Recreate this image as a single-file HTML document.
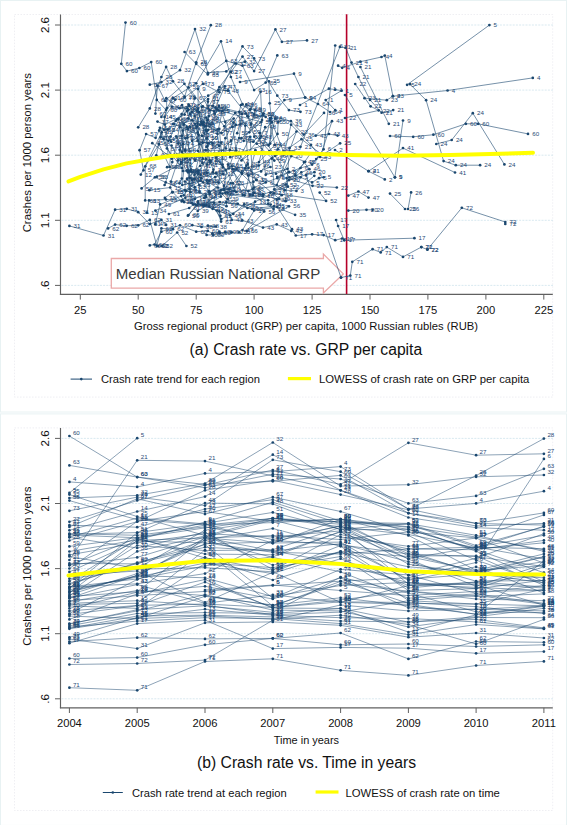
<!DOCTYPE html>
<html><head><meta charset="utf-8"><style>
html,body{margin:0;padding:0;background:#fff;}
svg{display:block;}
text{font-family:"Liberation Sans",sans-serif;}
</style></head><body>
<svg width="567" height="825" viewBox="0 0 567 825">
<rect x="0" y="0" width="567" height="825" fill="#fff"/>
<rect x="0.5" y="0.5" width="566" height="411.5" fill="none" stroke="#e8f2f3" stroke-width="1"/>
<rect x="14.5" y="14.5" width="538.2" height="382.6" fill="none" stroke="#ebebf0" stroke-width="0.8" stroke-dasharray="1.5 1.5"/>
<line x1="61.5" y1="25.0" x2="553" y2="25.0" stroke="#d5e6ee" stroke-width="0.9" stroke-dasharray="2 1.2"/>
<line x1="61.5" y1="90.1" x2="553" y2="90.1" stroke="#d5e6ee" stroke-width="0.9" stroke-dasharray="2 1.2"/>
<line x1="61.5" y1="155.2" x2="553" y2="155.2" stroke="#d5e6ee" stroke-width="0.9" stroke-dasharray="2 1.2"/>
<line x1="61.5" y1="220.3" x2="553" y2="220.3" stroke="#d5e6ee" stroke-width="0.9" stroke-dasharray="2 1.2"/>
<line x1="61.5" y1="285.4" x2="553" y2="285.4" stroke="#d5e6ee" stroke-width="0.9" stroke-dasharray="2 1.2"/>
<line x1="60.5" y1="14.5" x2="60.5" y2="294.9" stroke="#606060" stroke-width="1.15"/>
<line x1="59.9" y1="294.4" x2="552.8" y2="294.4" stroke="#606060" stroke-width="1.15"/>
<line x1="55" y1="25.0" x2="60" y2="25.0" stroke="#606060" stroke-width="1"/>
<text x="0" y="0" font-size="11.6" text-anchor="middle" fill="#111" transform="translate(49.2 25.0) rotate(-90)">2.6</text>
<line x1="55" y1="90.1" x2="60" y2="90.1" stroke="#606060" stroke-width="1"/>
<text x="0" y="0" font-size="11.6" text-anchor="middle" fill="#111" transform="translate(49.2 90.1) rotate(-90)">2.1</text>
<line x1="55" y1="155.2" x2="60" y2="155.2" stroke="#606060" stroke-width="1"/>
<text x="0" y="0" font-size="11.6" text-anchor="middle" fill="#111" transform="translate(49.2 155.2) rotate(-90)">1.6</text>
<line x1="55" y1="220.3" x2="60" y2="220.3" stroke="#606060" stroke-width="1"/>
<text x="0" y="0" font-size="11.6" text-anchor="middle" fill="#111" transform="translate(49.2 220.3) rotate(-90)">1.1</text>
<line x1="55" y1="285.4" x2="60" y2="285.4" stroke="#606060" stroke-width="1"/>
<text x="0" y="0" font-size="11.6" text-anchor="middle" fill="#111" transform="translate(49.2 285.4) rotate(-90)">.6</text>
<text x="0" y="0" font-size="11.4" text-anchor="middle" fill="#111" textLength="159.3" lengthAdjust="spacingAndGlyphs" transform="translate(30.6 152.7) rotate(-90)">Crashes per 1000 person years</text>
<line x1="80.3" y1="294.4" x2="80.3" y2="299.6" stroke="#606060" stroke-width="1"/>
<text x="80.3" y="313.7" font-size="11.2" text-anchor="middle" fill="#111">25</text>
<line x1="138.2" y1="294.4" x2="138.2" y2="299.6" stroke="#606060" stroke-width="1"/>
<text x="138.2" y="313.7" font-size="11.2" text-anchor="middle" fill="#111">50</text>
<line x1="196.2" y1="294.4" x2="196.2" y2="299.6" stroke="#606060" stroke-width="1"/>
<text x="196.2" y="313.7" font-size="11.2" text-anchor="middle" fill="#111">75</text>
<line x1="254.1" y1="294.4" x2="254.1" y2="299.6" stroke="#606060" stroke-width="1"/>
<text x="254.1" y="313.7" font-size="11.2" text-anchor="middle" fill="#111">100</text>
<line x1="312.1" y1="294.4" x2="312.1" y2="299.6" stroke="#606060" stroke-width="1"/>
<text x="312.1" y="313.7" font-size="11.2" text-anchor="middle" fill="#111">125</text>
<line x1="370.0" y1="294.4" x2="370.0" y2="299.6" stroke="#606060" stroke-width="1"/>
<text x="370.0" y="313.7" font-size="11.2" text-anchor="middle" fill="#111">150</text>
<line x1="427.9" y1="294.4" x2="427.9" y2="299.6" stroke="#606060" stroke-width="1"/>
<text x="427.9" y="313.7" font-size="11.2" text-anchor="middle" fill="#111">175</text>
<line x1="485.9" y1="294.4" x2="485.9" y2="299.6" stroke="#606060" stroke-width="1"/>
<text x="485.9" y="313.7" font-size="11.2" text-anchor="middle" fill="#111">200</text>
<line x1="543.8" y1="294.4" x2="543.8" y2="299.6" stroke="#606060" stroke-width="1"/>
<text x="543.8" y="313.7" font-size="11.2" text-anchor="middle" fill="#111">225</text>
<text x="134.0" y="330.3" font-size="11.3" text-anchor="start" fill="#111" textLength="344.0" lengthAdjust="spacingAndGlyphs" >Gross regional product (GRP) per capita, 1000 Russian rubles (RUB)</text>
<text x="189.6" y="355.0" font-size="15.6" text-anchor="start" fill="#111" textLength="232.6" lengthAdjust="spacingAndGlyphs" >(a) Crash rate vs. GRP per capita</text>
<line x1="70.6" y1="379.1" x2="92.0" y2="379.1" stroke="#1a476f" stroke-width="1"/>
<circle cx="81.3" cy="379.1" r="1.3" fill="#1a476f"/>
<text x="100.9" y="383.3" font-size="11.25" text-anchor="start" fill="#111" textLength="159.1" lengthAdjust="spacingAndGlyphs" >Crash rate trend for each region</text>
<line x1="287.9" y1="378.6" x2="311.0" y2="378.6" stroke="#ffff00" stroke-width="3.2"/>
<text x="319.0" y="383.3" font-size="11.25" text-anchor="start" fill="#111" textLength="210.4" lengthAdjust="spacingAndGlyphs" >LOWESS of crash rate on GRP per capita</text>
<rect x="0.5" y="413.9" width="566" height="411.5" fill="none" stroke="#e8f2f3" stroke-width="1"/>
<rect x="14.5" y="427.9" width="538.2" height="382.6" fill="none" stroke="#ebebf0" stroke-width="0.8" stroke-dasharray="1.5 1.5"/>
<line x1="61.5" y1="438.4" x2="553" y2="438.4" stroke="#d5e6ee" stroke-width="0.9" stroke-dasharray="2 1.2"/>
<line x1="61.5" y1="503.5" x2="553" y2="503.5" stroke="#d5e6ee" stroke-width="0.9" stroke-dasharray="2 1.2"/>
<line x1="61.5" y1="568.6" x2="553" y2="568.6" stroke="#d5e6ee" stroke-width="0.9" stroke-dasharray="2 1.2"/>
<line x1="61.5" y1="633.7" x2="553" y2="633.7" stroke="#d5e6ee" stroke-width="0.9" stroke-dasharray="2 1.2"/>
<line x1="61.5" y1="698.8" x2="553" y2="698.8" stroke="#d5e6ee" stroke-width="0.9" stroke-dasharray="2 1.2"/>
<line x1="60.5" y1="427.9" x2="60.5" y2="708.3" stroke="#606060" stroke-width="1.15"/>
<line x1="59.9" y1="707.8" x2="552.8" y2="707.8" stroke="#606060" stroke-width="1.15"/>
<line x1="55" y1="438.4" x2="60" y2="438.4" stroke="#606060" stroke-width="1"/>
<text x="0" y="0" font-size="11.6" text-anchor="middle" fill="#111" transform="translate(49.2 438.4) rotate(-90)">2.6</text>
<line x1="55" y1="503.5" x2="60" y2="503.5" stroke="#606060" stroke-width="1"/>
<text x="0" y="0" font-size="11.6" text-anchor="middle" fill="#111" transform="translate(49.2 503.5) rotate(-90)">2.1</text>
<line x1="55" y1="568.6" x2="60" y2="568.6" stroke="#606060" stroke-width="1"/>
<text x="0" y="0" font-size="11.6" text-anchor="middle" fill="#111" transform="translate(49.2 568.6) rotate(-90)">1.6</text>
<line x1="55" y1="633.7" x2="60" y2="633.7" stroke="#606060" stroke-width="1"/>
<text x="0" y="0" font-size="11.6" text-anchor="middle" fill="#111" transform="translate(49.2 633.7) rotate(-90)">1.1</text>
<line x1="55" y1="698.8" x2="60" y2="698.8" stroke="#606060" stroke-width="1"/>
<text x="0" y="0" font-size="11.6" text-anchor="middle" fill="#111" transform="translate(49.2 698.8) rotate(-90)">.6</text>
<text x="0" y="0" font-size="11.4" text-anchor="middle" fill="#111" textLength="159.3" lengthAdjust="spacingAndGlyphs" transform="translate(30.6 566.1) rotate(-90)">Crashes per 1000 person years</text>
<line x1="69.4" y1="707.8" x2="69.4" y2="713.0" stroke="#606060" stroke-width="1"/>
<text x="69.4" y="727.1" font-size="11.2" text-anchor="middle" fill="#111">2004</text>
<line x1="137.2" y1="707.8" x2="137.2" y2="713.0" stroke="#606060" stroke-width="1"/>
<text x="137.2" y="727.1" font-size="11.2" text-anchor="middle" fill="#111">2005</text>
<line x1="205.0" y1="707.8" x2="205.0" y2="713.0" stroke="#606060" stroke-width="1"/>
<text x="205.0" y="727.1" font-size="11.2" text-anchor="middle" fill="#111">2006</text>
<line x1="272.8" y1="707.8" x2="272.8" y2="713.0" stroke="#606060" stroke-width="1"/>
<text x="272.8" y="727.1" font-size="11.2" text-anchor="middle" fill="#111">2007</text>
<line x1="340.6" y1="707.8" x2="340.6" y2="713.0" stroke="#606060" stroke-width="1"/>
<text x="340.6" y="727.1" font-size="11.2" text-anchor="middle" fill="#111">2008</text>
<line x1="408.4" y1="707.8" x2="408.4" y2="713.0" stroke="#606060" stroke-width="1"/>
<text x="408.4" y="727.1" font-size="11.2" text-anchor="middle" fill="#111">2009</text>
<line x1="476.1" y1="707.8" x2="476.1" y2="713.0" stroke="#606060" stroke-width="1"/>
<text x="476.1" y="727.1" font-size="11.2" text-anchor="middle" fill="#111">2010</text>
<line x1="543.9" y1="707.8" x2="543.9" y2="713.0" stroke="#606060" stroke-width="1"/>
<text x="543.9" y="727.1" font-size="11.2" text-anchor="middle" fill="#111">2011</text>
<text x="273.8" y="743.7" font-size="11.3" text-anchor="start" fill="#111" textLength="65.2" lengthAdjust="spacingAndGlyphs" >Time in years</text>
<text x="197.0" y="768.4" font-size="15.6" text-anchor="start" fill="#111" textLength="219.0" lengthAdjust="spacingAndGlyphs" >(b) Crash rate vs. Time in years</text>
<line x1="102.8" y1="792.5" x2="122.8" y2="792.5" stroke="#1a476f" stroke-width="1"/>
<circle cx="112.8" cy="792.5" r="1.3" fill="#1a476f"/>
<text x="132.0" y="796.7" font-size="11.25" text-anchor="start" fill="#111" textLength="154.7" lengthAdjust="spacingAndGlyphs" >Crash rate trend at each region</text>
<line x1="315.6" y1="792.0" x2="338.5" y2="792.0" stroke="#ffff00" stroke-width="3.2"/>
<text x="345.4" y="796.7" font-size="11.25" text-anchor="start" fill="#111" textLength="154.5" lengthAdjust="spacingAndGlyphs" >LOWESS of crash rate on time</text>
<path d="M69.4 592.0 L137.2 576.1 L205.0 537.9 L272.8 543.3 L340.6 519.3 L408.4 535.4 L476.1 570.4 L543.9 565.6 M69.4 598.2 L137.2 584.6 L205.0 603.3 L272.8 594.9 L340.6 602.3 L408.4 604.3 L476.1 614.3 L543.9 561.0 M69.4 578.7 L137.2 569.2 L205.0 567.6 L272.8 571.8 L340.6 602.4 L408.4 585.6 L476.1 582.3 L543.9 575.3 M69.4 613.5 L137.2 579.5 L205.0 557.4 L272.8 580.0 L340.6 558.7 L408.4 585.5 L476.1 583.8 L543.9 588.0 M69.4 563.4 L137.2 563.9 L205.0 540.1 L272.8 528.5 L340.6 546.3 L408.4 590.5 L476.1 588.6 L543.9 566.8 M69.4 603.3 L137.2 600.7 L205.0 605.2 L272.8 614.7 L340.6 612.1 L408.4 600.7 L476.1 604.1 L543.9 605.8 M69.4 588.0 L137.2 532.8 L205.0 503.1 L272.8 503.9 L340.6 529.8 L408.4 529.3 L476.1 549.7 L543.9 540.4 M69.4 627.1 L137.2 621.1 L205.0 617.7 L272.8 618.5 L340.6 623.6 L408.4 634.7 L476.1 624.5 L543.9 628.9 M69.4 598.2 L137.2 575.3 L205.0 540.4 L272.8 557.4 L340.6 571.9 L408.4 598.2 L476.1 593.9 L543.9 603.3 M69.4 637.3 L137.2 617.5 L205.0 609.2 L272.8 615.2 L340.6 617.7 L408.4 618.5 L476.1 621.9 L543.9 628.6 M69.4 565.1 L137.2 557.4 L205.0 537.0 L272.8 520.1 L340.6 537.0 L408.4 546.3 L476.1 538.1 L543.9 563.1 M69.4 605.9 L137.2 608.4 L205.0 563.4 L272.8 573.6 L340.6 551.6 L408.4 588.0 L476.1 581.9 L543.9 586.9 M69.4 525.2 L137.2 527.2 L205.0 509.0 L272.8 499.7 L340.6 521.0 L408.4 527.3 L476.1 551.2 L543.9 581.7 M69.4 594.8 L137.2 573.6 L205.0 543.8 L272.8 542.1 L340.6 525.5 L408.4 559.1 L476.1 586.3 L543.9 564.2 M69.4 619.4 L137.2 593.9 L205.0 579.5 L272.8 608.1 L340.6 608.4 L408.4 622.1 L476.1 616.8 L543.9 608.3 M69.4 587.8 L137.2 545.5 L205.0 550.6 L272.8 549.7 L340.6 527.4 L408.4 584.2 L476.1 587.4 L543.9 590.4 M69.4 628.8 L137.2 618.6 L205.0 615.9 L272.8 619.3 L340.6 615.2 L408.4 624.5 L476.1 644.0 L543.9 619.4 M69.4 581.2 L137.2 538.8 L205.0 554.0 L272.8 554.8 L340.6 531.9 L408.4 558.6 L476.1 547.1 L543.9 535.3 M69.4 494.6 L137.2 516.6 L205.0 535.4 L272.8 565.1 L340.6 552.4 L408.4 566.8 L476.1 572.3 L543.9 556.5 M69.4 593.1 L137.2 540.4 L205.0 537.9 L272.8 535.6 L340.6 539.5 L408.4 531.9 L476.1 560.1 L543.9 583.1 M69.4 526.9 L137.2 498.8 L205.0 514.1 L272.8 497.1 L340.6 511.5 L408.4 531.9 L476.1 537.9 L543.9 514.9 M69.4 616.1 L137.2 618.5 L205.0 596.3 L272.8 605.0 L340.6 597.8 L408.4 605.8 L476.1 614.1 L543.9 605.7 M69.4 551.5 L137.2 539.9 L205.0 522.0 L272.8 502.2 L340.6 523.7 L408.4 524.3 L476.1 547.0 L543.9 559.0 M69.4 568.5 L137.2 521.4 L205.0 511.5 L272.8 521.4 L340.6 519.2 L408.4 529.4 L476.1 549.2 L543.9 542.8 M69.4 583.5 L137.2 563.4 L205.0 547.2 L272.8 551.0 L340.6 543.7 L408.4 561.7 L476.1 581.2 L543.9 580.4 M69.4 533.7 L137.2 535.3 L205.0 526.8 L272.8 539.5 L340.6 526.2 L408.4 564.2 L476.1 573.8 L543.9 556.9 M69.4 534.2 L137.2 532.6 L205.0 523.4 L272.8 512.4 L340.6 529.4 L408.4 523.6 L476.1 535.3 L543.9 551.4 M69.4 537.1 L137.2 518.0 L205.0 523.9 L272.8 543.0 L340.6 542.1 L408.4 580.4 L476.1 566.8 L543.9 593.1 M69.4 556.4 L137.2 568.5 L205.0 530.2 L272.8 520.0 L340.6 521.7 L408.4 555.9 L476.1 555.8 L543.9 585.4 M69.4 565.3 L137.2 538.0 L205.0 558.0 L272.8 570.2 L340.6 534.5 L408.4 548.9 L476.1 547.2 L543.9 548.8 M69.4 500.6 L137.2 519.7 L205.0 524.8 L272.8 522.6 L340.6 519.1 L408.4 526.8 L476.1 537.0 L543.9 549.9 M69.4 575.3 L137.2 571.0 L205.0 602.4 L272.8 572.3 L340.6 545.5 L408.4 579.2 L476.1 574.0 L543.9 577.8 M69.4 554.9 L137.2 542.9 L205.0 533.6 L272.8 537.0 L340.6 530.9 L408.4 551.4 L476.1 573.5 L543.9 582.9 M69.4 625.8 L137.2 613.5 L205.0 612.6 L272.8 613.5 L340.6 608.5 L408.4 632.1 L476.1 614.9 L543.9 606.4 M69.4 628.1 L137.2 616.0 L205.0 615.2 L272.8 616.9 L340.6 621.1 L408.4 621.9 L476.1 619.4 L543.9 627.9 M69.4 587.1 L137.2 583.8 L205.0 573.6 L272.8 540.4 L340.6 544.8 L408.4 554.0 L476.1 556.5 L543.9 566.6 M69.4 546.4 L137.2 537.6 L205.0 525.1 L272.8 518.3 L340.6 522.2 L408.4 523.4 L476.1 545.5 L543.9 526.8 M69.4 534.9 L137.2 537.8 L205.0 527.9 L272.8 518.4 L340.6 524.3 L408.4 553.7 L476.1 571.9 L543.9 561.7 M69.4 601.6 L137.2 590.5 L205.0 595.6 L272.8 605.4 L340.6 583.8 L408.4 591.2 L476.1 596.5 L543.9 593.9 M69.4 608.4 L137.2 592.2 L205.0 586.3 L272.8 599.0 L340.6 577.8 L408.4 607.8 L476.1 609.4 L543.9 605.9 M69.4 587.0 L137.2 578.9 L205.0 565.9 L272.8 556.8 L340.6 531.4 L408.4 575.3 L476.1 558.2 L543.9 533.7 M69.4 623.7 L137.2 610.9 L205.0 594.6 L272.8 610.1 L340.6 610.9 L408.4 627.0 L476.1 617.5 L543.9 617.7 M69.4 595.9 L137.2 551.4 L205.0 535.9 L272.8 518.0 L340.6 526.8 L408.4 534.5 L476.1 547.8 L543.9 526.2 M69.4 589.8 L137.2 577.1 L205.0 563.0 L272.8 567.6 L340.6 556.5 L408.4 600.4 L476.1 595.4 L543.9 604.3 M69.4 611.0 L137.2 605.4 L205.0 604.0 L272.8 607.5 L340.6 601.8 L408.4 602.5 L476.1 606.7 L543.9 613.4 M69.4 604.5 L137.2 603.3 L205.0 550.0 L272.8 606.2 L340.6 581.4 L408.4 603.3 L476.1 604.1 L543.9 589.0 M69.4 571.9 L137.2 541.1 L205.0 542.8 L272.8 552.3 L340.6 554.0 L408.4 549.0 L476.1 549.7 L543.9 572.7 M69.4 584.6 L137.2 562.5 L205.0 544.7 L272.8 598.2 L340.6 569.3 L408.4 575.0 L476.1 593.3 L543.9 585.4 M69.4 624.1 L137.2 609.7 L205.0 605.8 L272.8 612.3 L340.6 577.1 L408.4 593.1 L476.1 611.8 L543.9 612.8 M69.4 537.3 L137.2 548.0 L205.0 532.2 L272.8 569.5 L340.6 551.4 L408.4 556.5 L476.1 570.6 L543.9 553.9 M69.4 591.4 L137.2 575.6 L205.0 577.8 L272.8 596.5 L340.6 585.5 L408.4 582.4 L476.1 588.8 L543.9 580.2 M69.4 596.5 L137.2 591.8 L205.0 537.6 L272.8 550.9 L340.6 563.4 L408.4 582.9 L476.1 584.9 L543.9 605.2 M69.4 614.5 L137.2 605.8 L205.0 582.1 L272.8 607.5 L340.6 599.9 L408.4 591.3 L476.1 599.0 L543.9 600.7 M69.4 436.0 L137.2 477.1 L205.0 484.4 L272.8 481.3 L340.6 475.4 L408.4 513.2 L476.1 523.4 L543.9 512.9 M69.4 465.4 L137.2 477.1 L205.0 487.8 L272.8 474.2 L340.6 479.0 L408.4 503.4 L476.1 495.9 L543.9 468.8 M69.4 481.9 L137.2 486.9 L205.0 473.4 L272.8 471.7 L340.6 466.6 L408.4 509.0 L476.1 503.4 L543.9 491.2 M69.4 492.9 L137.2 438.2 M205.0 590.0 L272.8 585.0 L340.6 590.5 L408.4 595.6 L476.1 591.4 L543.9 590.5 M69.4 560.0 L137.2 460.3 L205.0 461.1 L272.8 475.9 L340.6 490.3 L408.4 513.2 L476.1 526.0 L543.9 523.4 M69.4 498.0 L137.2 495.4 L205.0 483.5 L272.8 442.5 L340.6 486.1 L408.4 484.7 L476.1 476.8 L543.9 475.0 M69.4 521.8 L137.2 500.5 L205.0 485.2 L272.8 470.0 L340.6 484.4 L408.4 442.8 L476.1 455.2 L543.9 453.8 M69.4 540.5 L137.2 521.7 L205.0 490.3 L272.8 480.2 L340.6 494.6 L408.4 509.8 L476.1 475.6 L543.9 438.6 M69.4 530.3 L137.2 511.5 L205.0 496.6 L272.8 454.7 L340.6 490.3 L408.4 517.5 L476.1 527.7 L543.9 530.2 M69.4 510.8 L137.2 497.1 L205.0 505.6 L272.8 459.8 L340.6 471.7 L408.4 509.0 L476.1 523.4 L543.9 525.1 M69.4 600.8 L137.2 595.6 L205.0 591.4 L272.8 585.5 L340.6 581.2 L408.4 577.8 L476.1 562.5 L543.9 458.9 M69.4 687.7 L137.2 690.3 L205.0 661.5 L272.8 658.8 L340.6 670.3 L408.4 675.4 L476.1 665.5 L543.9 661.4 M69.4 664.5 L137.2 663.5 L205.0 660.1 L272.8 620.2 L340.6 605.0 L408.4 610.9 L476.1 609.2 L543.9 610.9 M69.4 658.5 L137.2 657.6 L205.0 644.8 L272.8 638.4 L340.6 644.8 L408.4 644.0 L476.1 646.5 L543.9 644.8 M69.4 641.5 L137.2 637.7 L205.0 638.9 L272.8 638.4 L340.6 633.0 L408.4 658.9 L476.1 641.5 L543.9 642.3 M69.4 639.0 L137.2 648.6 L205.0 622.8 L272.8 621.9 L340.6 625.3 L408.4 637.2 L476.1 633.0 L543.9 638.0 M69.4 643.2 L137.2 623.6 L205.0 620.2 L272.8 648.6 L340.6 647.4 L408.4 648.2 L476.1 653.3 L543.9 651.6" fill="none" stroke="#1a476f" stroke-width="0.5" stroke-linejoin="round"/>
<g fill="#1a476f"><circle cx="69.4" cy="592.0" r="1.35"/><circle cx="137.2" cy="576.1" r="1.35"/><circle cx="205.0" cy="537.9" r="1.35"/><circle cx="272.8" cy="543.3" r="1.35"/><circle cx="340.6" cy="519.3" r="1.35"/><circle cx="408.4" cy="535.4" r="1.35"/><circle cx="476.1" cy="570.4" r="1.35"/><circle cx="543.9" cy="565.6" r="1.35"/><circle cx="69.4" cy="598.2" r="1.35"/><circle cx="137.2" cy="584.6" r="1.35"/><circle cx="205.0" cy="603.3" r="1.35"/><circle cx="272.8" cy="594.9" r="1.35"/><circle cx="340.6" cy="602.3" r="1.35"/><circle cx="408.4" cy="604.3" r="1.35"/><circle cx="476.1" cy="614.3" r="1.35"/><circle cx="543.9" cy="561.0" r="1.35"/><circle cx="69.4" cy="578.7" r="1.35"/><circle cx="137.2" cy="569.2" r="1.35"/><circle cx="205.0" cy="567.6" r="1.35"/><circle cx="272.8" cy="571.8" r="1.35"/><circle cx="340.6" cy="602.4" r="1.35"/><circle cx="408.4" cy="585.6" r="1.35"/><circle cx="476.1" cy="582.3" r="1.35"/><circle cx="543.9" cy="575.3" r="1.35"/><circle cx="69.4" cy="613.5" r="1.35"/><circle cx="137.2" cy="579.5" r="1.35"/><circle cx="205.0" cy="557.4" r="1.35"/><circle cx="272.8" cy="580.0" r="1.35"/><circle cx="340.6" cy="558.7" r="1.35"/><circle cx="408.4" cy="585.5" r="1.35"/><circle cx="476.1" cy="583.8" r="1.35"/><circle cx="543.9" cy="588.0" r="1.35"/><circle cx="69.4" cy="563.4" r="1.35"/><circle cx="137.2" cy="563.9" r="1.35"/><circle cx="205.0" cy="540.1" r="1.35"/><circle cx="272.8" cy="528.5" r="1.35"/><circle cx="340.6" cy="546.3" r="1.35"/><circle cx="408.4" cy="590.5" r="1.35"/><circle cx="476.1" cy="588.6" r="1.35"/><circle cx="543.9" cy="566.8" r="1.35"/><circle cx="69.4" cy="603.3" r="1.35"/><circle cx="137.2" cy="600.7" r="1.35"/><circle cx="205.0" cy="605.2" r="1.35"/><circle cx="272.8" cy="614.7" r="1.35"/><circle cx="340.6" cy="612.1" r="1.35"/><circle cx="408.4" cy="600.7" r="1.35"/><circle cx="476.1" cy="604.1" r="1.35"/><circle cx="543.9" cy="605.8" r="1.35"/><circle cx="69.4" cy="588.0" r="1.35"/><circle cx="137.2" cy="532.8" r="1.35"/><circle cx="205.0" cy="503.1" r="1.35"/><circle cx="272.8" cy="503.9" r="1.35"/><circle cx="340.6" cy="529.8" r="1.35"/><circle cx="408.4" cy="529.3" r="1.35"/><circle cx="476.1" cy="549.7" r="1.35"/><circle cx="543.9" cy="540.4" r="1.35"/><circle cx="69.4" cy="627.1" r="1.35"/><circle cx="137.2" cy="621.1" r="1.35"/><circle cx="205.0" cy="617.7" r="1.35"/><circle cx="272.8" cy="618.5" r="1.35"/><circle cx="340.6" cy="623.6" r="1.35"/><circle cx="408.4" cy="634.7" r="1.35"/><circle cx="476.1" cy="624.5" r="1.35"/><circle cx="543.9" cy="628.9" r="1.35"/><circle cx="69.4" cy="598.2" r="1.35"/><circle cx="137.2" cy="575.3" r="1.35"/><circle cx="205.0" cy="540.4" r="1.35"/><circle cx="272.8" cy="557.4" r="1.35"/><circle cx="340.6" cy="571.9" r="1.35"/><circle cx="408.4" cy="598.2" r="1.35"/><circle cx="476.1" cy="593.9" r="1.35"/><circle cx="543.9" cy="603.3" r="1.35"/><circle cx="69.4" cy="637.3" r="1.35"/><circle cx="137.2" cy="617.5" r="1.35"/><circle cx="205.0" cy="609.2" r="1.35"/><circle cx="272.8" cy="615.2" r="1.35"/><circle cx="340.6" cy="617.7" r="1.35"/><circle cx="408.4" cy="618.5" r="1.35"/><circle cx="476.1" cy="621.9" r="1.35"/><circle cx="543.9" cy="628.6" r="1.35"/><circle cx="69.4" cy="565.1" r="1.35"/><circle cx="137.2" cy="557.4" r="1.35"/><circle cx="205.0" cy="537.0" r="1.35"/><circle cx="272.8" cy="520.1" r="1.35"/><circle cx="340.6" cy="537.0" r="1.35"/><circle cx="408.4" cy="546.3" r="1.35"/><circle cx="476.1" cy="538.1" r="1.35"/><circle cx="543.9" cy="563.1" r="1.35"/><circle cx="69.4" cy="605.9" r="1.35"/><circle cx="137.2" cy="608.4" r="1.35"/><circle cx="205.0" cy="563.4" r="1.35"/><circle cx="272.8" cy="573.6" r="1.35"/><circle cx="340.6" cy="551.6" r="1.35"/><circle cx="408.4" cy="588.0" r="1.35"/><circle cx="476.1" cy="581.9" r="1.35"/><circle cx="543.9" cy="586.9" r="1.35"/><circle cx="69.4" cy="525.2" r="1.35"/><circle cx="137.2" cy="527.2" r="1.35"/><circle cx="205.0" cy="509.0" r="1.35"/><circle cx="272.8" cy="499.7" r="1.35"/><circle cx="340.6" cy="521.0" r="1.35"/><circle cx="408.4" cy="527.3" r="1.35"/><circle cx="476.1" cy="551.2" r="1.35"/><circle cx="543.9" cy="581.7" r="1.35"/><circle cx="69.4" cy="594.8" r="1.35"/><circle cx="137.2" cy="573.6" r="1.35"/><circle cx="205.0" cy="543.8" r="1.35"/><circle cx="272.8" cy="542.1" r="1.35"/><circle cx="340.6" cy="525.5" r="1.35"/><circle cx="408.4" cy="559.1" r="1.35"/><circle cx="476.1" cy="586.3" r="1.35"/><circle cx="543.9" cy="564.2" r="1.35"/><circle cx="69.4" cy="619.4" r="1.35"/><circle cx="137.2" cy="593.9" r="1.35"/><circle cx="205.0" cy="579.5" r="1.35"/><circle cx="272.8" cy="608.1" r="1.35"/><circle cx="340.6" cy="608.4" r="1.35"/><circle cx="408.4" cy="622.1" r="1.35"/><circle cx="476.1" cy="616.8" r="1.35"/><circle cx="543.9" cy="608.3" r="1.35"/><circle cx="69.4" cy="587.8" r="1.35"/><circle cx="137.2" cy="545.5" r="1.35"/><circle cx="205.0" cy="550.6" r="1.35"/><circle cx="272.8" cy="549.7" r="1.35"/><circle cx="340.6" cy="527.4" r="1.35"/><circle cx="408.4" cy="584.2" r="1.35"/><circle cx="476.1" cy="587.4" r="1.35"/><circle cx="543.9" cy="590.4" r="1.35"/><circle cx="69.4" cy="628.8" r="1.35"/><circle cx="137.2" cy="618.6" r="1.35"/><circle cx="205.0" cy="615.9" r="1.35"/><circle cx="272.8" cy="619.3" r="1.35"/><circle cx="340.6" cy="615.2" r="1.35"/><circle cx="408.4" cy="624.5" r="1.35"/><circle cx="476.1" cy="644.0" r="1.35"/><circle cx="543.9" cy="619.4" r="1.35"/><circle cx="69.4" cy="581.2" r="1.35"/><circle cx="137.2" cy="538.8" r="1.35"/><circle cx="205.0" cy="554.0" r="1.35"/><circle cx="272.8" cy="554.8" r="1.35"/><circle cx="340.6" cy="531.9" r="1.35"/><circle cx="408.4" cy="558.6" r="1.35"/><circle cx="476.1" cy="547.1" r="1.35"/><circle cx="543.9" cy="535.3" r="1.35"/><circle cx="69.4" cy="494.6" r="1.35"/><circle cx="137.2" cy="516.6" r="1.35"/><circle cx="205.0" cy="535.4" r="1.35"/><circle cx="272.8" cy="565.1" r="1.35"/><circle cx="340.6" cy="552.4" r="1.35"/><circle cx="408.4" cy="566.8" r="1.35"/><circle cx="476.1" cy="572.3" r="1.35"/><circle cx="543.9" cy="556.5" r="1.35"/><circle cx="69.4" cy="593.1" r="1.35"/><circle cx="137.2" cy="540.4" r="1.35"/><circle cx="205.0" cy="537.9" r="1.35"/><circle cx="272.8" cy="535.6" r="1.35"/><circle cx="340.6" cy="539.5" r="1.35"/><circle cx="408.4" cy="531.9" r="1.35"/><circle cx="476.1" cy="560.1" r="1.35"/><circle cx="543.9" cy="583.1" r="1.35"/><circle cx="69.4" cy="526.9" r="1.35"/><circle cx="137.2" cy="498.8" r="1.35"/><circle cx="205.0" cy="514.1" r="1.35"/><circle cx="272.8" cy="497.1" r="1.35"/><circle cx="340.6" cy="511.5" r="1.35"/><circle cx="408.4" cy="531.9" r="1.35"/><circle cx="476.1" cy="537.9" r="1.35"/><circle cx="543.9" cy="514.9" r="1.35"/><circle cx="69.4" cy="616.1" r="1.35"/><circle cx="137.2" cy="618.5" r="1.35"/><circle cx="205.0" cy="596.3" r="1.35"/><circle cx="272.8" cy="605.0" r="1.35"/><circle cx="340.6" cy="597.8" r="1.35"/><circle cx="408.4" cy="605.8" r="1.35"/><circle cx="476.1" cy="614.1" r="1.35"/><circle cx="543.9" cy="605.7" r="1.35"/><circle cx="69.4" cy="551.5" r="1.35"/><circle cx="137.2" cy="539.9" r="1.35"/><circle cx="205.0" cy="522.0" r="1.35"/><circle cx="272.8" cy="502.2" r="1.35"/><circle cx="340.6" cy="523.7" r="1.35"/><circle cx="408.4" cy="524.3" r="1.35"/><circle cx="476.1" cy="547.0" r="1.35"/><circle cx="543.9" cy="559.0" r="1.35"/><circle cx="69.4" cy="568.5" r="1.35"/><circle cx="137.2" cy="521.4" r="1.35"/><circle cx="205.0" cy="511.5" r="1.35"/><circle cx="272.8" cy="521.4" r="1.35"/><circle cx="340.6" cy="519.2" r="1.35"/><circle cx="408.4" cy="529.4" r="1.35"/><circle cx="476.1" cy="549.2" r="1.35"/><circle cx="543.9" cy="542.8" r="1.35"/><circle cx="69.4" cy="583.5" r="1.35"/><circle cx="137.2" cy="563.4" r="1.35"/><circle cx="205.0" cy="547.2" r="1.35"/><circle cx="272.8" cy="551.0" r="1.35"/><circle cx="340.6" cy="543.7" r="1.35"/><circle cx="408.4" cy="561.7" r="1.35"/><circle cx="476.1" cy="581.2" r="1.35"/><circle cx="543.9" cy="580.4" r="1.35"/><circle cx="69.4" cy="533.7" r="1.35"/><circle cx="137.2" cy="535.3" r="1.35"/><circle cx="205.0" cy="526.8" r="1.35"/><circle cx="272.8" cy="539.5" r="1.35"/><circle cx="340.6" cy="526.2" r="1.35"/><circle cx="408.4" cy="564.2" r="1.35"/><circle cx="476.1" cy="573.8" r="1.35"/><circle cx="543.9" cy="556.9" r="1.35"/><circle cx="69.4" cy="534.2" r="1.35"/><circle cx="137.2" cy="532.6" r="1.35"/><circle cx="205.0" cy="523.4" r="1.35"/><circle cx="272.8" cy="512.4" r="1.35"/><circle cx="340.6" cy="529.4" r="1.35"/><circle cx="408.4" cy="523.6" r="1.35"/><circle cx="476.1" cy="535.3" r="1.35"/><circle cx="543.9" cy="551.4" r="1.35"/><circle cx="69.4" cy="537.1" r="1.35"/><circle cx="137.2" cy="518.0" r="1.35"/><circle cx="205.0" cy="523.9" r="1.35"/><circle cx="272.8" cy="543.0" r="1.35"/><circle cx="340.6" cy="542.1" r="1.35"/><circle cx="408.4" cy="580.4" r="1.35"/><circle cx="476.1" cy="566.8" r="1.35"/><circle cx="543.9" cy="593.1" r="1.35"/><circle cx="69.4" cy="556.4" r="1.35"/><circle cx="137.2" cy="568.5" r="1.35"/><circle cx="205.0" cy="530.2" r="1.35"/><circle cx="272.8" cy="520.0" r="1.35"/><circle cx="340.6" cy="521.7" r="1.35"/><circle cx="408.4" cy="555.9" r="1.35"/><circle cx="476.1" cy="555.8" r="1.35"/><circle cx="543.9" cy="585.4" r="1.35"/><circle cx="69.4" cy="565.3" r="1.35"/><circle cx="137.2" cy="538.0" r="1.35"/><circle cx="205.0" cy="558.0" r="1.35"/><circle cx="272.8" cy="570.2" r="1.35"/><circle cx="340.6" cy="534.5" r="1.35"/><circle cx="408.4" cy="548.9" r="1.35"/><circle cx="476.1" cy="547.2" r="1.35"/><circle cx="543.9" cy="548.8" r="1.35"/><circle cx="69.4" cy="500.6" r="1.35"/><circle cx="137.2" cy="519.7" r="1.35"/><circle cx="205.0" cy="524.8" r="1.35"/><circle cx="272.8" cy="522.6" r="1.35"/><circle cx="340.6" cy="519.1" r="1.35"/><circle cx="408.4" cy="526.8" r="1.35"/><circle cx="476.1" cy="537.0" r="1.35"/><circle cx="543.9" cy="549.9" r="1.35"/><circle cx="69.4" cy="575.3" r="1.35"/><circle cx="137.2" cy="571.0" r="1.35"/><circle cx="205.0" cy="602.4" r="1.35"/><circle cx="272.8" cy="572.3" r="1.35"/><circle cx="340.6" cy="545.5" r="1.35"/><circle cx="408.4" cy="579.2" r="1.35"/><circle cx="476.1" cy="574.0" r="1.35"/><circle cx="543.9" cy="577.8" r="1.35"/><circle cx="69.4" cy="554.9" r="1.35"/><circle cx="137.2" cy="542.9" r="1.35"/><circle cx="205.0" cy="533.6" r="1.35"/><circle cx="272.8" cy="537.0" r="1.35"/><circle cx="340.6" cy="530.9" r="1.35"/><circle cx="408.4" cy="551.4" r="1.35"/><circle cx="476.1" cy="573.5" r="1.35"/><circle cx="543.9" cy="582.9" r="1.35"/><circle cx="69.4" cy="625.8" r="1.35"/><circle cx="137.2" cy="613.5" r="1.35"/><circle cx="205.0" cy="612.6" r="1.35"/><circle cx="272.8" cy="613.5" r="1.35"/><circle cx="340.6" cy="608.5" r="1.35"/><circle cx="408.4" cy="632.1" r="1.35"/><circle cx="476.1" cy="614.9" r="1.35"/><circle cx="543.9" cy="606.4" r="1.35"/><circle cx="69.4" cy="628.1" r="1.35"/><circle cx="137.2" cy="616.0" r="1.35"/><circle cx="205.0" cy="615.2" r="1.35"/><circle cx="272.8" cy="616.9" r="1.35"/><circle cx="340.6" cy="621.1" r="1.35"/><circle cx="408.4" cy="621.9" r="1.35"/><circle cx="476.1" cy="619.4" r="1.35"/><circle cx="543.9" cy="627.9" r="1.35"/><circle cx="69.4" cy="587.1" r="1.35"/><circle cx="137.2" cy="583.8" r="1.35"/><circle cx="205.0" cy="573.6" r="1.35"/><circle cx="272.8" cy="540.4" r="1.35"/><circle cx="340.6" cy="544.8" r="1.35"/><circle cx="408.4" cy="554.0" r="1.35"/><circle cx="476.1" cy="556.5" r="1.35"/><circle cx="543.9" cy="566.6" r="1.35"/><circle cx="69.4" cy="546.4" r="1.35"/><circle cx="137.2" cy="537.6" r="1.35"/><circle cx="205.0" cy="525.1" r="1.35"/><circle cx="272.8" cy="518.3" r="1.35"/><circle cx="340.6" cy="522.2" r="1.35"/><circle cx="408.4" cy="523.4" r="1.35"/><circle cx="476.1" cy="545.5" r="1.35"/><circle cx="543.9" cy="526.8" r="1.35"/><circle cx="69.4" cy="534.9" r="1.35"/><circle cx="137.2" cy="537.8" r="1.35"/><circle cx="205.0" cy="527.9" r="1.35"/><circle cx="272.8" cy="518.4" r="1.35"/><circle cx="340.6" cy="524.3" r="1.35"/><circle cx="408.4" cy="553.7" r="1.35"/><circle cx="476.1" cy="571.9" r="1.35"/><circle cx="543.9" cy="561.7" r="1.35"/><circle cx="69.4" cy="601.6" r="1.35"/><circle cx="137.2" cy="590.5" r="1.35"/><circle cx="205.0" cy="595.6" r="1.35"/><circle cx="272.8" cy="605.4" r="1.35"/><circle cx="340.6" cy="583.8" r="1.35"/><circle cx="408.4" cy="591.2" r="1.35"/><circle cx="476.1" cy="596.5" r="1.35"/><circle cx="543.9" cy="593.9" r="1.35"/><circle cx="69.4" cy="608.4" r="1.35"/><circle cx="137.2" cy="592.2" r="1.35"/><circle cx="205.0" cy="586.3" r="1.35"/><circle cx="272.8" cy="599.0" r="1.35"/><circle cx="340.6" cy="577.8" r="1.35"/><circle cx="408.4" cy="607.8" r="1.35"/><circle cx="476.1" cy="609.4" r="1.35"/><circle cx="543.9" cy="605.9" r="1.35"/><circle cx="69.4" cy="587.0" r="1.35"/><circle cx="137.2" cy="578.9" r="1.35"/><circle cx="205.0" cy="565.9" r="1.35"/><circle cx="272.8" cy="556.8" r="1.35"/><circle cx="340.6" cy="531.4" r="1.35"/><circle cx="408.4" cy="575.3" r="1.35"/><circle cx="476.1" cy="558.2" r="1.35"/><circle cx="543.9" cy="533.7" r="1.35"/><circle cx="69.4" cy="623.7" r="1.35"/><circle cx="137.2" cy="610.9" r="1.35"/><circle cx="205.0" cy="594.6" r="1.35"/><circle cx="272.8" cy="610.1" r="1.35"/><circle cx="340.6" cy="610.9" r="1.35"/><circle cx="408.4" cy="627.0" r="1.35"/><circle cx="476.1" cy="617.5" r="1.35"/><circle cx="543.9" cy="617.7" r="1.35"/><circle cx="69.4" cy="595.9" r="1.35"/><circle cx="137.2" cy="551.4" r="1.35"/><circle cx="205.0" cy="535.9" r="1.35"/><circle cx="272.8" cy="518.0" r="1.35"/><circle cx="340.6" cy="526.8" r="1.35"/><circle cx="408.4" cy="534.5" r="1.35"/><circle cx="476.1" cy="547.8" r="1.35"/><circle cx="543.9" cy="526.2" r="1.35"/><circle cx="69.4" cy="589.8" r="1.35"/><circle cx="137.2" cy="577.1" r="1.35"/><circle cx="205.0" cy="563.0" r="1.35"/><circle cx="272.8" cy="567.6" r="1.35"/><circle cx="340.6" cy="556.5" r="1.35"/><circle cx="408.4" cy="600.4" r="1.35"/><circle cx="476.1" cy="595.4" r="1.35"/><circle cx="543.9" cy="604.3" r="1.35"/><circle cx="69.4" cy="611.0" r="1.35"/><circle cx="137.2" cy="605.4" r="1.35"/><circle cx="205.0" cy="604.0" r="1.35"/><circle cx="272.8" cy="607.5" r="1.35"/><circle cx="340.6" cy="601.8" r="1.35"/><circle cx="408.4" cy="602.5" r="1.35"/><circle cx="476.1" cy="606.7" r="1.35"/><circle cx="543.9" cy="613.4" r="1.35"/><circle cx="69.4" cy="604.5" r="1.35"/><circle cx="137.2" cy="603.3" r="1.35"/><circle cx="205.0" cy="550.0" r="1.35"/><circle cx="272.8" cy="606.2" r="1.35"/><circle cx="340.6" cy="581.4" r="1.35"/><circle cx="408.4" cy="603.3" r="1.35"/><circle cx="476.1" cy="604.1" r="1.35"/><circle cx="543.9" cy="589.0" r="1.35"/><circle cx="69.4" cy="571.9" r="1.35"/><circle cx="137.2" cy="541.1" r="1.35"/><circle cx="205.0" cy="542.8" r="1.35"/><circle cx="272.8" cy="552.3" r="1.35"/><circle cx="340.6" cy="554.0" r="1.35"/><circle cx="408.4" cy="549.0" r="1.35"/><circle cx="476.1" cy="549.7" r="1.35"/><circle cx="543.9" cy="572.7" r="1.35"/><circle cx="69.4" cy="584.6" r="1.35"/><circle cx="137.2" cy="562.5" r="1.35"/><circle cx="205.0" cy="544.7" r="1.35"/><circle cx="272.8" cy="598.2" r="1.35"/><circle cx="340.6" cy="569.3" r="1.35"/><circle cx="408.4" cy="575.0" r="1.35"/><circle cx="476.1" cy="593.3" r="1.35"/><circle cx="543.9" cy="585.4" r="1.35"/><circle cx="69.4" cy="624.1" r="1.35"/><circle cx="137.2" cy="609.7" r="1.35"/><circle cx="205.0" cy="605.8" r="1.35"/><circle cx="272.8" cy="612.3" r="1.35"/><circle cx="340.6" cy="577.1" r="1.35"/><circle cx="408.4" cy="593.1" r="1.35"/><circle cx="476.1" cy="611.8" r="1.35"/><circle cx="543.9" cy="612.8" r="1.35"/><circle cx="69.4" cy="537.3" r="1.35"/><circle cx="137.2" cy="548.0" r="1.35"/><circle cx="205.0" cy="532.2" r="1.35"/><circle cx="272.8" cy="569.5" r="1.35"/><circle cx="340.6" cy="551.4" r="1.35"/><circle cx="408.4" cy="556.5" r="1.35"/><circle cx="476.1" cy="570.6" r="1.35"/><circle cx="543.9" cy="553.9" r="1.35"/><circle cx="69.4" cy="591.4" r="1.35"/><circle cx="137.2" cy="575.6" r="1.35"/><circle cx="205.0" cy="577.8" r="1.35"/><circle cx="272.8" cy="596.5" r="1.35"/><circle cx="340.6" cy="585.5" r="1.35"/><circle cx="408.4" cy="582.4" r="1.35"/><circle cx="476.1" cy="588.8" r="1.35"/><circle cx="543.9" cy="580.2" r="1.35"/><circle cx="69.4" cy="596.5" r="1.35"/><circle cx="137.2" cy="591.8" r="1.35"/><circle cx="205.0" cy="537.6" r="1.35"/><circle cx="272.8" cy="550.9" r="1.35"/><circle cx="340.6" cy="563.4" r="1.35"/><circle cx="408.4" cy="582.9" r="1.35"/><circle cx="476.1" cy="584.9" r="1.35"/><circle cx="543.9" cy="605.2" r="1.35"/><circle cx="69.4" cy="614.5" r="1.35"/><circle cx="137.2" cy="605.8" r="1.35"/><circle cx="205.0" cy="582.1" r="1.35"/><circle cx="272.8" cy="607.5" r="1.35"/><circle cx="340.6" cy="599.9" r="1.35"/><circle cx="408.4" cy="591.3" r="1.35"/><circle cx="476.1" cy="599.0" r="1.35"/><circle cx="543.9" cy="600.7" r="1.35"/><circle cx="69.4" cy="436.0" r="1.35"/><circle cx="137.2" cy="477.1" r="1.35"/><circle cx="205.0" cy="484.4" r="1.35"/><circle cx="272.8" cy="481.3" r="1.35"/><circle cx="340.6" cy="475.4" r="1.35"/><circle cx="408.4" cy="513.2" r="1.35"/><circle cx="476.1" cy="523.4" r="1.35"/><circle cx="543.9" cy="512.9" r="1.35"/><circle cx="69.4" cy="465.4" r="1.35"/><circle cx="137.2" cy="477.1" r="1.35"/><circle cx="205.0" cy="487.8" r="1.35"/><circle cx="272.8" cy="474.2" r="1.35"/><circle cx="340.6" cy="479.0" r="1.35"/><circle cx="408.4" cy="503.4" r="1.35"/><circle cx="476.1" cy="495.9" r="1.35"/><circle cx="543.9" cy="468.8" r="1.35"/><circle cx="69.4" cy="481.9" r="1.35"/><circle cx="137.2" cy="486.9" r="1.35"/><circle cx="205.0" cy="473.4" r="1.35"/><circle cx="272.8" cy="471.7" r="1.35"/><circle cx="340.6" cy="466.6" r="1.35"/><circle cx="408.4" cy="509.0" r="1.35"/><circle cx="476.1" cy="503.4" r="1.35"/><circle cx="543.9" cy="491.2" r="1.35"/><circle cx="69.4" cy="492.9" r="1.35"/><circle cx="137.2" cy="438.2" r="1.35"/><circle cx="205.0" cy="590.0" r="1.35"/><circle cx="272.8" cy="585.0" r="1.35"/><circle cx="340.6" cy="590.5" r="1.35"/><circle cx="408.4" cy="595.6" r="1.35"/><circle cx="476.1" cy="591.4" r="1.35"/><circle cx="543.9" cy="590.5" r="1.35"/><circle cx="69.4" cy="560.0" r="1.35"/><circle cx="137.2" cy="460.3" r="1.35"/><circle cx="205.0" cy="461.1" r="1.35"/><circle cx="272.8" cy="475.9" r="1.35"/><circle cx="340.6" cy="490.3" r="1.35"/><circle cx="408.4" cy="513.2" r="1.35"/><circle cx="476.1" cy="526.0" r="1.35"/><circle cx="543.9" cy="523.4" r="1.35"/><circle cx="69.4" cy="498.0" r="1.35"/><circle cx="137.2" cy="495.4" r="1.35"/><circle cx="205.0" cy="483.5" r="1.35"/><circle cx="272.8" cy="442.5" r="1.35"/><circle cx="340.6" cy="486.1" r="1.35"/><circle cx="408.4" cy="484.7" r="1.35"/><circle cx="476.1" cy="476.8" r="1.35"/><circle cx="543.9" cy="475.0" r="1.35"/><circle cx="69.4" cy="521.8" r="1.35"/><circle cx="137.2" cy="500.5" r="1.35"/><circle cx="205.0" cy="485.2" r="1.35"/><circle cx="272.8" cy="470.0" r="1.35"/><circle cx="340.6" cy="484.4" r="1.35"/><circle cx="408.4" cy="442.8" r="1.35"/><circle cx="476.1" cy="455.2" r="1.35"/><circle cx="543.9" cy="453.8" r="1.35"/><circle cx="69.4" cy="540.5" r="1.35"/><circle cx="137.2" cy="521.7" r="1.35"/><circle cx="205.0" cy="490.3" r="1.35"/><circle cx="272.8" cy="480.2" r="1.35"/><circle cx="340.6" cy="494.6" r="1.35"/><circle cx="408.4" cy="509.8" r="1.35"/><circle cx="476.1" cy="475.6" r="1.35"/><circle cx="543.9" cy="438.6" r="1.35"/><circle cx="69.4" cy="530.3" r="1.35"/><circle cx="137.2" cy="511.5" r="1.35"/><circle cx="205.0" cy="496.6" r="1.35"/><circle cx="272.8" cy="454.7" r="1.35"/><circle cx="340.6" cy="490.3" r="1.35"/><circle cx="408.4" cy="517.5" r="1.35"/><circle cx="476.1" cy="527.7" r="1.35"/><circle cx="543.9" cy="530.2" r="1.35"/><circle cx="69.4" cy="510.8" r="1.35"/><circle cx="137.2" cy="497.1" r="1.35"/><circle cx="205.0" cy="505.6" r="1.35"/><circle cx="272.8" cy="459.8" r="1.35"/><circle cx="340.6" cy="471.7" r="1.35"/><circle cx="408.4" cy="509.0" r="1.35"/><circle cx="476.1" cy="523.4" r="1.35"/><circle cx="543.9" cy="525.1" r="1.35"/><circle cx="69.4" cy="600.8" r="1.35"/><circle cx="137.2" cy="595.6" r="1.35"/><circle cx="205.0" cy="591.4" r="1.35"/><circle cx="272.8" cy="585.5" r="1.35"/><circle cx="340.6" cy="581.2" r="1.35"/><circle cx="408.4" cy="577.8" r="1.35"/><circle cx="476.1" cy="562.5" r="1.35"/><circle cx="543.9" cy="458.9" r="1.35"/><circle cx="69.4" cy="687.7" r="1.35"/><circle cx="137.2" cy="690.3" r="1.35"/><circle cx="205.0" cy="661.5" r="1.35"/><circle cx="272.8" cy="658.8" r="1.35"/><circle cx="340.6" cy="670.3" r="1.35"/><circle cx="408.4" cy="675.4" r="1.35"/><circle cx="476.1" cy="665.5" r="1.35"/><circle cx="543.9" cy="661.4" r="1.35"/><circle cx="69.4" cy="664.5" r="1.35"/><circle cx="137.2" cy="663.5" r="1.35"/><circle cx="205.0" cy="660.1" r="1.35"/><circle cx="272.8" cy="620.2" r="1.35"/><circle cx="340.6" cy="605.0" r="1.35"/><circle cx="408.4" cy="610.9" r="1.35"/><circle cx="476.1" cy="609.2" r="1.35"/><circle cx="543.9" cy="610.9" r="1.35"/><circle cx="69.4" cy="658.5" r="1.35"/><circle cx="137.2" cy="657.6" r="1.35"/><circle cx="205.0" cy="644.8" r="1.35"/><circle cx="272.8" cy="638.4" r="1.35"/><circle cx="340.6" cy="644.8" r="1.35"/><circle cx="408.4" cy="644.0" r="1.35"/><circle cx="476.1" cy="646.5" r="1.35"/><circle cx="543.9" cy="644.8" r="1.35"/><circle cx="69.4" cy="641.5" r="1.35"/><circle cx="137.2" cy="637.7" r="1.35"/><circle cx="205.0" cy="638.9" r="1.35"/><circle cx="272.8" cy="638.4" r="1.35"/><circle cx="340.6" cy="633.0" r="1.35"/><circle cx="408.4" cy="658.9" r="1.35"/><circle cx="476.1" cy="641.5" r="1.35"/><circle cx="543.9" cy="642.3" r="1.35"/><circle cx="69.4" cy="639.0" r="1.35"/><circle cx="137.2" cy="648.6" r="1.35"/><circle cx="205.0" cy="622.8" r="1.35"/><circle cx="272.8" cy="621.9" r="1.35"/><circle cx="340.6" cy="625.3" r="1.35"/><circle cx="408.4" cy="637.2" r="1.35"/><circle cx="476.1" cy="633.0" r="1.35"/><circle cx="543.9" cy="638.0" r="1.35"/><circle cx="69.4" cy="643.2" r="1.35"/><circle cx="137.2" cy="623.6" r="1.35"/><circle cx="205.0" cy="620.2" r="1.35"/><circle cx="272.8" cy="648.6" r="1.35"/><circle cx="340.6" cy="647.4" r="1.35"/><circle cx="408.4" cy="648.2" r="1.35"/><circle cx="476.1" cy="653.3" r="1.35"/><circle cx="543.9" cy="651.6" r="1.35"/></g>
<g font-size="6.2" fill="#1f4a75"><text x="72.9" y="590.8">80</text><text x="140.7" y="574.9">80</text><text x="208.5" y="536.7">80</text><text x="276.3" y="542.1">80</text><text x="344.1" y="518.1">80</text><text x="411.9" y="534.2">80</text><text x="479.6" y="569.2">80</text><text x="547.4" y="564.4">80</text><text x="72.9" y="597.0">33</text><text x="140.7" y="583.4">33</text><text x="208.5" y="602.1">33</text><text x="276.3" y="593.7">33</text><text x="344.1" y="601.1">33</text><text x="411.9" y="603.1">33</text><text x="479.6" y="613.1">33</text><text x="547.4" y="559.8">33</text><text x="72.9" y="577.5">46</text><text x="140.7" y="568.0">46</text><text x="208.5" y="566.4">46</text><text x="276.3" y="570.6">46</text><text x="344.1" y="601.2">46</text><text x="411.9" y="584.4">46</text><text x="479.6" y="581.1">46</text><text x="547.4" y="574.1">46</text><text x="72.9" y="612.3">68</text><text x="140.7" y="578.3">68</text><text x="208.5" y="556.2">68</text><text x="276.3" y="578.8">68</text><text x="344.1" y="557.5">68</text><text x="411.9" y="584.3">68</text><text x="479.6" y="582.6">68</text><text x="547.4" y="586.8">68</text><text x="72.9" y="562.2">7</text><text x="140.7" y="562.7">7</text><text x="208.5" y="538.9">7</text><text x="276.3" y="527.3">7</text><text x="344.1" y="545.1">7</text><text x="411.9" y="589.3">7</text><text x="479.6" y="587.4">7</text><text x="547.4" y="565.6">7</text><text x="72.9" y="602.1">15</text><text x="140.7" y="599.5">15</text><text x="208.5" y="604.0">15</text><text x="276.3" y="613.5">15</text><text x="344.1" y="610.9">15</text><text x="411.9" y="599.5">15</text><text x="479.6" y="602.9">15</text><text x="547.4" y="604.6">15</text><text x="72.9" y="586.8">48</text><text x="140.7" y="531.6">48</text><text x="208.5" y="501.9">48</text><text x="276.3" y="502.7">48</text><text x="344.1" y="528.6">48</text><text x="411.9" y="528.1">48</text><text x="479.6" y="548.5">48</text><text x="547.4" y="539.2">48</text><text x="72.9" y="625.9">61</text><text x="140.7" y="619.9">61</text><text x="208.5" y="616.5">61</text><text x="276.3" y="617.3">61</text><text x="344.1" y="622.4">61</text><text x="411.9" y="633.5">61</text><text x="479.6" y="623.3">61</text><text x="547.4" y="627.7">61</text><text x="72.9" y="597.0">74</text><text x="140.7" y="574.1">74</text><text x="208.5" y="539.2">74</text><text x="276.3" y="556.2">74</text><text x="344.1" y="570.7">74</text><text x="411.9" y="597.0">74</text><text x="479.6" y="592.7">74</text><text x="547.4" y="602.1">74</text><text x="72.9" y="636.1">49</text><text x="140.7" y="616.3">49</text><text x="208.5" y="608.0">49</text><text x="276.3" y="614.0">49</text><text x="344.1" y="616.5">49</text><text x="411.9" y="617.3">49</text><text x="479.6" y="620.7">49</text><text x="547.4" y="627.4">49</text><text x="72.9" y="563.9">77</text><text x="140.7" y="556.2">77</text><text x="208.5" y="535.8">77</text><text x="276.3" y="518.9">77</text><text x="344.1" y="535.8">77</text><text x="411.9" y="545.1">77</text><text x="479.6" y="536.9">77</text><text x="547.4" y="561.9">77</text><text x="72.9" y="604.7">2</text><text x="140.7" y="607.2">2</text><text x="208.5" y="562.2">2</text><text x="276.3" y="572.4">2</text><text x="344.1" y="550.4">2</text><text x="411.9" y="586.8">2</text><text x="479.6" y="580.7">2</text><text x="547.4" y="585.7">2</text><text x="72.9" y="524.0">47</text><text x="140.7" y="526.0">47</text><text x="208.5" y="507.8">47</text><text x="276.3" y="498.5">47</text><text x="344.1" y="519.8">47</text><text x="411.9" y="526.1">47</text><text x="479.6" y="550.0">47</text><text x="547.4" y="580.5">47</text><text x="72.9" y="593.6">66</text><text x="140.7" y="572.4">66</text><text x="208.5" y="542.6">66</text><text x="276.3" y="540.9">66</text><text x="344.1" y="524.3">66</text><text x="411.9" y="557.9">66</text><text x="479.6" y="585.1">66</text><text x="547.4" y="563.0">66</text><text x="72.9" y="618.2">18</text><text x="140.7" y="592.7">18</text><text x="208.5" y="578.3">18</text><text x="276.3" y="606.9">18</text><text x="344.1" y="607.2">18</text><text x="411.9" y="620.9">18</text><text x="479.6" y="615.6">18</text><text x="547.4" y="607.1">18</text><text x="72.9" y="586.6">12</text><text x="140.7" y="544.3">12</text><text x="208.5" y="549.4">12</text><text x="276.3" y="548.5">12</text><text x="344.1" y="526.2">12</text><text x="411.9" y="583.0">12</text><text x="479.6" y="586.2">12</text><text x="547.4" y="589.2">12</text><text x="72.9" y="627.6">56</text><text x="140.7" y="617.4">56</text><text x="208.5" y="614.7">56</text><text x="276.3" y="618.1">56</text><text x="344.1" y="614.0">56</text><text x="411.9" y="623.3">56</text><text x="479.6" y="642.8">56</text><text x="547.4" y="618.2">56</text><text x="72.9" y="580.0">50</text><text x="140.7" y="537.6">50</text><text x="208.5" y="552.8">50</text><text x="276.3" y="553.6">50</text><text x="344.1" y="530.7">50</text><text x="411.9" y="557.4">50</text><text x="479.6" y="545.9">50</text><text x="547.4" y="534.1">50</text><text x="72.9" y="493.4">25</text><text x="140.7" y="515.4">25</text><text x="208.5" y="534.2">25</text><text x="276.3" y="563.9">25</text><text x="344.1" y="551.2">25</text><text x="411.9" y="565.6">25</text><text x="479.6" y="571.1">25</text><text x="547.4" y="555.3">25</text><text x="72.9" y="591.9">11</text><text x="140.7" y="539.2">11</text><text x="208.5" y="536.7">11</text><text x="276.3" y="534.4">11</text><text x="344.1" y="538.3">11</text><text x="411.9" y="530.7">11</text><text x="479.6" y="558.9">11</text><text x="547.4" y="581.9">11</text><text x="72.9" y="525.7">67</text><text x="140.7" y="497.6">67</text><text x="208.5" y="512.9">67</text><text x="276.3" y="495.9">67</text><text x="344.1" y="510.3">67</text><text x="411.9" y="530.7">67</text><text x="479.6" y="536.7">67</text><text x="547.4" y="513.7">67</text><text x="72.9" y="614.9">52</text><text x="140.7" y="617.3">52</text><text x="208.5" y="595.1">52</text><text x="276.3" y="603.8">52</text><text x="344.1" y="596.6">52</text><text x="411.9" y="604.6">52</text><text x="479.6" y="612.9">52</text><text x="547.4" y="604.5">52</text><text x="72.9" y="550.3">9</text><text x="140.7" y="538.7">9</text><text x="208.5" y="520.8">9</text><text x="276.3" y="501.0">9</text><text x="344.1" y="522.5">9</text><text x="411.9" y="523.1">9</text><text x="479.6" y="545.8">9</text><text x="547.4" y="557.8">9</text><text x="72.9" y="567.3">40</text><text x="140.7" y="520.2">40</text><text x="208.5" y="510.3">40</text><text x="276.3" y="520.2">40</text><text x="344.1" y="518.0">40</text><text x="411.9" y="528.2">40</text><text x="479.6" y="548.0">40</text><text x="547.4" y="541.6">40</text><text x="72.9" y="582.3">57</text><text x="140.7" y="562.2">57</text><text x="208.5" y="546.0">57</text><text x="276.3" y="549.8">57</text><text x="344.1" y="542.5">57</text><text x="411.9" y="560.5">57</text><text x="479.6" y="580.0">57</text><text x="547.4" y="579.2">57</text><text x="72.9" y="532.5">29</text><text x="140.7" y="534.1">29</text><text x="208.5" y="525.6">29</text><text x="276.3" y="538.3">29</text><text x="344.1" y="525.0">29</text><text x="411.9" y="563.0">29</text><text x="479.6" y="572.6">29</text><text x="547.4" y="555.7">29</text><text x="72.9" y="533.0">51</text><text x="140.7" y="531.4">51</text><text x="208.5" y="522.2">51</text><text x="276.3" y="511.2">51</text><text x="344.1" y="528.2">51</text><text x="411.9" y="522.4">51</text><text x="479.6" y="534.1">51</text><text x="547.4" y="550.2">51</text><text x="72.9" y="535.9">1</text><text x="140.7" y="516.8">1</text><text x="208.5" y="522.7">1</text><text x="276.3" y="541.8">1</text><text x="344.1" y="540.9">1</text><text x="411.9" y="579.2">1</text><text x="479.6" y="565.6">1</text><text x="547.4" y="591.9">1</text><text x="72.9" y="555.2">45</text><text x="140.7" y="567.3">45</text><text x="208.5" y="529.0">45</text><text x="276.3" y="518.8">45</text><text x="344.1" y="520.5">45</text><text x="411.9" y="554.7">45</text><text x="479.6" y="554.6">45</text><text x="547.4" y="584.2">45</text><text x="72.9" y="564.1">43</text><text x="140.7" y="536.8">43</text><text x="208.5" y="556.8">43</text><text x="276.3" y="569.0">43</text><text x="344.1" y="533.3">43</text><text x="411.9" y="547.7">43</text><text x="479.6" y="546.0">43</text><text x="547.4" y="547.6">43</text><text x="72.9" y="499.4">55</text><text x="140.7" y="518.5">55</text><text x="208.5" y="523.6">55</text><text x="276.3" y="521.4">55</text><text x="344.1" y="517.9">55</text><text x="411.9" y="525.6">55</text><text x="479.6" y="535.8">55</text><text x="547.4" y="548.7">55</text><text x="72.9" y="574.1">41</text><text x="140.7" y="569.8">41</text><text x="208.5" y="601.2">41</text><text x="276.3" y="571.1">41</text><text x="344.1" y="544.3">41</text><text x="411.9" y="578.0">41</text><text x="479.6" y="572.8">41</text><text x="547.4" y="576.6">41</text><text x="72.9" y="553.7">19</text><text x="140.7" y="541.7">19</text><text x="208.5" y="532.4">19</text><text x="276.3" y="535.8">19</text><text x="344.1" y="529.7">19</text><text x="411.9" y="550.2">19</text><text x="479.6" y="572.3">19</text><text x="547.4" y="581.7">19</text><text x="72.9" y="624.6">13</text><text x="140.7" y="612.3">13</text><text x="208.5" y="611.4">13</text><text x="276.3" y="612.3">13</text><text x="344.1" y="607.3">13</text><text x="411.9" y="630.9">13</text><text x="479.6" y="613.7">13</text><text x="547.4" y="605.2">13</text><text x="72.9" y="626.9">35</text><text x="140.7" y="614.8">35</text><text x="208.5" y="614.0">35</text><text x="276.3" y="615.7">35</text><text x="344.1" y="619.9">35</text><text x="411.9" y="620.7">35</text><text x="479.6" y="618.2">35</text><text x="547.4" y="626.7">35</text><text x="72.9" y="585.9">42</text><text x="140.7" y="582.6">42</text><text x="208.5" y="572.4">42</text><text x="276.3" y="539.2">42</text><text x="344.1" y="543.6">42</text><text x="411.9" y="552.8">42</text><text x="479.6" y="555.3">42</text><text x="547.4" y="565.4">42</text><text x="72.9" y="545.2">59</text><text x="140.7" y="536.4">59</text><text x="208.5" y="523.9">59</text><text x="276.3" y="517.1">59</text><text x="344.1" y="521.0">59</text><text x="411.9" y="522.2">59</text><text x="479.6" y="544.3">59</text><text x="547.4" y="525.6">59</text><text x="72.9" y="533.7">37</text><text x="140.7" y="536.6">37</text><text x="208.5" y="526.7">37</text><text x="276.3" y="517.2">37</text><text x="344.1" y="523.1">37</text><text x="411.9" y="552.5">37</text><text x="479.6" y="570.7">37</text><text x="547.4" y="560.5">37</text><text x="72.9" y="600.4">58</text><text x="140.7" y="589.3">58</text><text x="208.5" y="594.4">58</text><text x="276.3" y="604.2">58</text><text x="344.1" y="582.6">58</text><text x="411.9" y="590.0">58</text><text x="479.6" y="595.3">58</text><text x="547.4" y="592.7">58</text><text x="72.9" y="607.2">10</text><text x="140.7" y="591.0">10</text><text x="208.5" y="585.1">10</text><text x="276.3" y="597.8">10</text><text x="344.1" y="576.6">10</text><text x="411.9" y="606.6">10</text><text x="479.6" y="608.2">10</text><text x="547.4" y="604.7">10</text><text x="72.9" y="585.8">44</text><text x="140.7" y="577.7">44</text><text x="208.5" y="564.7">44</text><text x="276.3" y="555.6">44</text><text x="344.1" y="530.2">44</text><text x="411.9" y="574.1">44</text><text x="479.6" y="557.0">44</text><text x="547.4" y="532.5">44</text><text x="72.9" y="622.5">34</text><text x="140.7" y="609.7">34</text><text x="208.5" y="593.4">34</text><text x="276.3" y="608.9">34</text><text x="344.1" y="609.7">34</text><text x="411.9" y="625.8">34</text><text x="479.6" y="616.3">34</text><text x="547.4" y="616.5">34</text><text x="72.9" y="594.7">36</text><text x="140.7" y="550.2">36</text><text x="208.5" y="534.7">36</text><text x="276.3" y="516.8">36</text><text x="344.1" y="525.6">36</text><text x="411.9" y="533.3">36</text><text x="479.6" y="546.6">36</text><text x="547.4" y="525.0">36</text><text x="72.9" y="588.6">53</text><text x="140.7" y="575.9">53</text><text x="208.5" y="561.8">53</text><text x="276.3" y="566.4">53</text><text x="344.1" y="555.3">53</text><text x="411.9" y="599.2">53</text><text x="479.6" y="594.2">53</text><text x="547.4" y="603.1">53</text><text x="72.9" y="609.8">78</text><text x="140.7" y="604.2">78</text><text x="208.5" y="602.8">78</text><text x="276.3" y="606.3">78</text><text x="344.1" y="600.6">78</text><text x="411.9" y="601.3">78</text><text x="479.6" y="605.5">78</text><text x="547.4" y="612.2">78</text><text x="72.9" y="603.3">3</text><text x="140.7" y="602.1">3</text><text x="208.5" y="548.8">3</text><text x="276.3" y="605.0">3</text><text x="344.1" y="580.2">3</text><text x="411.9" y="602.1">3</text><text x="479.6" y="602.9">3</text><text x="547.4" y="587.8">3</text><text x="72.9" y="570.7">54</text><text x="140.7" y="539.9">54</text><text x="208.5" y="541.6">54</text><text x="276.3" y="551.1">54</text><text x="344.1" y="552.8">54</text><text x="411.9" y="547.8">54</text><text x="479.6" y="548.5">54</text><text x="547.4" y="571.5">54</text><text x="72.9" y="583.4">20</text><text x="140.7" y="561.3">20</text><text x="208.5" y="543.5">20</text><text x="276.3" y="597.0">20</text><text x="344.1" y="568.1">20</text><text x="411.9" y="573.8">20</text><text x="479.6" y="592.1">20</text><text x="547.4" y="584.2">20</text><text x="72.9" y="622.9">39</text><text x="140.7" y="608.5">39</text><text x="208.5" y="604.6">39</text><text x="276.3" y="611.1">39</text><text x="344.1" y="575.9">39</text><text x="411.9" y="591.9">39</text><text x="479.6" y="610.6">39</text><text x="547.4" y="611.6">39</text><text x="72.9" y="536.1">30</text><text x="140.7" y="546.8">30</text><text x="208.5" y="531.0">30</text><text x="276.3" y="568.3">30</text><text x="344.1" y="550.2">30</text><text x="411.9" y="555.3">30</text><text x="479.6" y="569.4">30</text><text x="547.4" y="552.7">30</text><text x="72.9" y="590.2">23</text><text x="140.7" y="574.4">23</text><text x="208.5" y="576.6">23</text><text x="276.3" y="595.3">23</text><text x="344.1" y="584.3">23</text><text x="411.9" y="581.2">23</text><text x="479.6" y="587.6">23</text><text x="547.4" y="579.0">23</text><text x="72.9" y="595.3">24</text><text x="140.7" y="590.6">24</text><text x="208.5" y="536.4">24</text><text x="276.3" y="549.7">24</text><text x="344.1" y="562.2">24</text><text x="411.9" y="581.7">24</text><text x="479.6" y="583.7">24</text><text x="547.4" y="604.0">24</text><text x="72.9" y="613.3">22</text><text x="140.7" y="604.6">22</text><text x="208.5" y="580.9">22</text><text x="276.3" y="606.3">22</text><text x="344.1" y="598.7">22</text><text x="411.9" y="590.1">22</text><text x="479.6" y="597.8">22</text><text x="547.4" y="599.5">22</text><text x="72.9" y="434.8">60</text><text x="140.7" y="475.9">60</text><text x="208.5" y="483.2">60</text><text x="276.3" y="480.1">60</text><text x="344.1" y="474.2">60</text><text x="411.9" y="512.0">60</text><text x="479.6" y="522.2">60</text><text x="547.4" y="511.7">60</text><text x="72.9" y="464.2">63</text><text x="140.7" y="475.9">63</text><text x="208.5" y="486.6">63</text><text x="276.3" y="473.0">63</text><text x="344.1" y="477.8">63</text><text x="411.9" y="502.2">63</text><text x="479.6" y="494.7">63</text><text x="547.4" y="467.6">63</text><text x="72.9" y="480.7">4</text><text x="140.7" y="485.7">4</text><text x="208.5" y="472.2">4</text><text x="276.3" y="470.5">4</text><text x="344.1" y="465.4">4</text><text x="411.9" y="507.8">4</text><text x="479.6" y="502.2">4</text><text x="547.4" y="490.0">4</text><text x="72.9" y="491.7">5</text><text x="140.7" y="437.0">5</text><text x="208.5" y="588.8">5</text><text x="276.3" y="583.8">5</text><text x="344.1" y="589.3">5</text><text x="411.9" y="594.4">5</text><text x="479.6" y="590.2">5</text><text x="547.4" y="589.3">5</text><text x="72.9" y="558.8">21</text><text x="140.7" y="459.1">21</text><text x="208.5" y="459.9">21</text><text x="276.3" y="474.7">21</text><text x="344.1" y="489.1">21</text><text x="411.9" y="512.0">21</text><text x="479.6" y="524.8">21</text><text x="547.4" y="522.2">21</text><text x="72.9" y="496.8">32</text><text x="140.7" y="494.2">32</text><text x="208.5" y="482.3">32</text><text x="276.3" y="441.3">32</text><text x="344.1" y="484.9">32</text><text x="411.9" y="483.5">32</text><text x="479.6" y="475.6">32</text><text x="547.4" y="473.8">32</text><text x="72.9" y="520.6">27</text><text x="140.7" y="499.3">27</text><text x="208.5" y="484.0">27</text><text x="276.3" y="468.8">27</text><text x="344.1" y="483.2">27</text><text x="411.9" y="441.6">27</text><text x="479.6" y="454.0">27</text><text x="547.4" y="452.6">27</text><text x="72.9" y="539.3">28</text><text x="140.7" y="520.5">28</text><text x="208.5" y="489.1">28</text><text x="276.3" y="479.0">28</text><text x="344.1" y="493.4">28</text><text x="411.9" y="508.6">28</text><text x="479.6" y="474.4">28</text><text x="547.4" y="437.4">28</text><text x="72.9" y="529.1">14</text><text x="140.7" y="510.3">14</text><text x="208.5" y="495.4">14</text><text x="276.3" y="453.5">14</text><text x="344.1" y="489.1">14</text><text x="411.9" y="516.3">14</text><text x="479.6" y="526.5">14</text><text x="547.4" y="529.0">14</text><text x="72.9" y="509.6">73</text><text x="140.7" y="495.9">73</text><text x="208.5" y="504.4">73</text><text x="276.3" y="458.6">73</text><text x="344.1" y="470.5">73</text><text x="411.9" y="507.8">73</text><text x="479.6" y="522.2">73</text><text x="547.4" y="523.9">73</text><text x="72.9" y="599.6">6</text><text x="140.7" y="594.4">6</text><text x="208.5" y="590.2">6</text><text x="276.3" y="584.3">6</text><text x="344.1" y="580.0">6</text><text x="411.9" y="576.6">6</text><text x="479.6" y="561.3">6</text><text x="547.4" y="457.7">6</text><text x="72.9" y="686.5">71</text><text x="140.7" y="689.1">71</text><text x="208.5" y="660.3">71</text><text x="276.3" y="657.6">71</text><text x="344.1" y="669.1">71</text><text x="411.9" y="674.2">71</text><text x="479.6" y="664.3">71</text><text x="547.4" y="660.2">71</text><text x="72.9" y="663.3">72</text><text x="140.7" y="662.3">72</text><text x="208.5" y="658.9">72</text><text x="276.3" y="619.0">72</text><text x="344.1" y="603.8">72</text><text x="411.9" y="609.7">72</text><text x="479.6" y="608.0">72</text><text x="547.4" y="609.7">72</text><text x="72.9" y="657.3">60</text><text x="140.7" y="656.4">60</text><text x="208.5" y="643.6">60</text><text x="276.3" y="637.2">60</text><text x="344.1" y="643.6">60</text><text x="411.9" y="642.8">60</text><text x="479.6" y="645.3">60</text><text x="547.4" y="643.6">60</text><text x="72.9" y="640.3">62</text><text x="140.7" y="636.5">62</text><text x="208.5" y="637.7">62</text><text x="276.3" y="637.2">62</text><text x="344.1" y="631.8">62</text><text x="411.9" y="657.7">62</text><text x="479.6" y="640.3">62</text><text x="547.4" y="641.1">62</text><text x="72.9" y="637.8">31</text><text x="140.7" y="647.4">31</text><text x="208.5" y="621.6">31</text><text x="276.3" y="620.7">31</text><text x="344.1" y="624.1">31</text><text x="411.9" y="636.0">31</text><text x="479.6" y="631.8">31</text><text x="547.4" y="636.8">31</text><text x="72.9" y="642.0">17</text><text x="140.7" y="622.4">17</text><text x="208.5" y="619.0">17</text><text x="276.3" y="647.4">17</text><text x="344.1" y="646.2">17</text><text x="411.9" y="647.0">17</text><text x="479.6" y="652.1">17</text><text x="547.4" y="650.4">17</text></g>
<path d="M68.5 575.6 L137.0 567.6 L205.0 560.8 L273.0 560.3 L340.6 564.0 L408.4 571.2 L476.1 574.0 L544.0 574.4" fill="none" stroke="#ffff00" stroke-width="4" stroke-linecap="round" stroke-linejoin="round"/>
<path d="M111.3 258.5 H323.4 V254.1 L343.3 273.9 L323.4 292.9 V288.1 H111.3 Z" fill="#fff" stroke="#eaa8a8" stroke-width="1.3"/>
<text x="115.8" y="279.2" font-size="15" fill="#3a3a3a" textLength="204.5" lengthAdjust="spacingAndGlyphs">Median Russian National GRP</text>
<line x1="346.6" y1="14.3" x2="346.6" y2="294" stroke="#b5002a" stroke-width="1.6"/>
<path d="M187.0 178.9 L202.4 162.9 L203.5 124.7 L208.2 130.1 L218.9 106.0 L225.3 122.1 L230.2 157.2 L246.7 152.4 M199.3 185.1 L191.1 171.4 L221.1 190.2 L253.5 181.7 L252.7 189.1 L248.3 191.1 L285.6 201.2 L289.6 147.8 M258.9 165.5 L275.2 156.0 L276.7 154.4 L271.9 158.6 L274.3 189.3 L301.3 172.4 L309.4 169.2 L303.9 162.1 M145.2 200.4 L145.3 166.3 L159.0 144.2 L169.6 166.8 L171.5 145.5 L188.0 172.3 L198.4 170.6 L200.6 174.8 M205.6 150.2 L236.3 150.7 L232.4 126.9 L262.9 115.2 L259.9 133.1 L289.4 177.3 L295.4 175.4 L310.3 153.6 M149.4 190.2 L170.2 187.5 L172.7 192.1 L181.7 201.5 L194.8 199.0 L217.8 187.5 L234.3 191.0 L227.5 192.7 M194.6 174.8 L208.0 119.5 L218.5 89.8 L227.9 90.6 L248.4 116.6 L247.3 116.0 L261.1 136.5 L265.2 127.2 M168.9 214.0 L189.2 208.0 L193.2 204.6 L203.9 205.4 L216.8 210.5 L221.1 221.6 L219.3 211.4 L220.4 215.8 M164.6 185.0 L172.3 162.1 L179.7 127.2 L183.1 144.2 L185.0 158.7 L182.3 185.0 L200.6 180.7 L184.8 190.2 M155.3 224.2 L160.1 204.4 L181.2 196.1 L184.1 202.1 L195.3 204.6 L206.4 205.4 L212.6 208.8 L230.3 215.5 M181.8 151.9 L199.6 144.2 L197.6 123.8 L201.8 106.8 L202.0 123.8 L221.4 133.1 L235.9 124.8 L229.9 149.9 M225.3 192.8 L244.6 195.3 L255.4 150.2 L241.5 160.4 L259.8 138.3 L265.7 174.8 L287.5 168.8 L275.9 173.7 M192.1 111.9 L190.1 113.9 L208.2 95.7 L224.7 86.4 L215.5 107.7 L242.1 114.0 L239.1 138.0 L228.8 168.5 M170.9 181.6 L178.0 160.4 L182.8 130.6 L187.9 128.9 L199.0 112.2 L207.5 145.9 L206.8 173.1 L198.0 151.0 M209.1 206.3 L209.2 180.7 L231.7 166.3 L242.7 194.9 L252.9 195.3 L273.6 209.0 L268.2 203.7 L281.7 195.2 M140.8 174.6 L161.8 132.3 L160.5 137.4 L170.6 136.5 L181.7 114.1 L182.9 171.0 L223.2 174.2 L215.1 177.2 M187.9 215.7 L197.0 205.5 L213.9 202.7 L226.5 206.2 L226.3 202.1 L264.2 211.4 L246.7 230.9 L289.0 206.3 M248.4 168.0 L245.3 125.6 L243.7 140.8 L253.4 141.6 L275.2 118.6 L268.6 145.4 L277.5 133.9 L278.2 122.0 M268.9 81.3 L269.7 103.3 L271.9 122.2 L283.5 151.9 L301.5 139.2 L320.5 153.6 L316.2 159.1 L340.1 143.3 M192.0 179.9 L186.7 127.2 L200.0 124.7 L203.7 122.4 L205.0 126.3 L233.7 118.6 L206.4 146.9 L225.6 169.9 M155.4 113.6 L157.4 85.5 L165.0 100.8 L184.4 83.8 L194.9 98.2 L188.2 118.6 L203.0 124.6 L207.9 101.6 M191.7 203.0 L204.0 205.4 L230.7 183.1 L236.3 191.9 L285.8 184.6 L270.4 192.7 L326.1 200.9 L319.7 192.6 M185.4 138.3 L197.0 126.7 L198.2 108.7 L198.0 88.9 L209.8 110.4 L222.3 111.0 L217.4 133.7 L219.1 145.8 M156.3 155.3 L166.9 108.2 L166.3 98.2 L179.5 108.2 L189.4 105.9 L194.7 116.1 L202.0 136.0 L217.8 129.5 M143.5 170.3 L139.6 150.2 L146.1 134.0 L155.6 137.8 L159.2 130.4 L166.9 148.5 L181.9 168.0 L167.1 167.2 M207.4 120.4 L201.2 122.0 L214.6 113.5 L224.3 126.3 L235.2 112.9 L269.4 151.0 L274.3 160.6 L256.7 143.7 M175.7 120.9 L177.1 119.4 L188.4 110.1 L208.1 99.1 L208.7 116.1 L218.7 110.4 L261.3 122.0 L241.4 138.2 M173.2 123.9 L188.6 104.7 L196.8 110.6 L205.5 129.8 L219.3 128.9 L222.9 167.2 L214.0 153.6 L256.6 179.9 M152.3 143.2 L168.1 155.3 L164.6 116.9 L171.8 106.7 L187.5 108.4 L202.7 142.7 L221.3 142.6 L212.9 172.2 M284.5 152.1 L291.1 124.7 L311.0 144.8 L320.1 157.0 L332.0 121.2 L315.7 135.7 L329.0 134.0 L337.6 135.6 M188.5 87.3 L202.8 106.4 L214.1 111.5 L216.8 109.3 L212.9 105.8 L245.8 113.5 L250.9 123.8 L254.3 136.7 M181.1 162.1 L186.9 157.8 L189.5 189.3 L206.1 159.2 L197.6 132.3 L200.2 166.0 L210.7 160.8 L206.9 164.6 M171.2 141.7 L163.9 129.7 L192.0 120.3 L195.2 123.8 L206.3 117.6 L206.8 138.2 L209.4 160.3 L213.4 169.7 M146.9 212.7 L149.0 200.4 L166.0 199.5 L182.5 200.4 L205.8 195.4 L221.3 219.0 L255.1 201.7 L274.0 193.3 M188.5 215.0 L198.0 202.9 L219.8 202.1 L237.8 203.8 L247.4 208.0 L252.0 208.8 L273.8 206.3 L295.1 214.8 M198.4 174.0 L186.6 170.6 L195.0 160.4 L190.1 127.1 L206.7 131.5 L192.1 140.8 L208.1 143.3 L229.0 153.4 M237.2 133.2 L240.3 124.3 L239.3 111.8 L240.9 105.0 L250.6 108.9 L254.8 110.1 L249.3 132.3 L263.4 113.5 M157.5 121.6 L164.8 124.6 L184.7 114.6 L182.1 105.1 L186.8 111.0 L197.7 140.5 L202.9 158.7 L226.0 148.5 M141.6 188.4 L154.9 177.3 L165.7 182.4 L190.4 192.2 L188.8 170.6 L189.9 178.0 L207.7 183.3 L206.7 180.7 M183.7 195.3 L194.2 179.0 L216.2 173.1 L224.0 185.8 L228.0 164.6 L249.8 194.7 L263.0 196.3 L254.3 192.7 M242.0 173.8 L246.4 165.7 L239.0 152.7 L270.2 143.6 L271.0 118.1 L259.0 162.1 L274.8 145.0 L269.8 120.4 M155.4 210.6 L185.4 197.8 L184.9 181.5 L206.1 197.0 L204.3 197.8 L233.3 213.9 L244.2 204.4 L270.7 204.6 M218.6 182.7 L225.4 138.2 L233.5 122.6 L246.3 104.7 L263.3 113.5 L290.9 121.2 L303.7 134.6 L324.0 112.9 M156.9 176.7 L180.7 164.0 L179.6 149.8 L182.9 154.4 L178.3 143.3 L194.7 187.2 L203.1 182.3 L208.6 191.1 M164.9 197.9 L172.2 192.3 L186.2 190.9 L209.7 194.4 L223.9 188.7 L229.0 189.3 L222.4 193.6 L268.1 200.3 M209.1 191.4 L224.3 190.2 L250.1 136.8 L253.4 193.1 L245.3 168.2 L284.7 190.2 L296.4 190.9 L314.3 175.8 M171.8 158.7 L159.9 127.8 L167.8 129.6 L163.5 139.1 L168.4 140.8 L182.0 135.8 L176.0 136.5 L189.8 159.5 M261.1 171.4 L277.8 149.3 L296.5 131.5 L276.7 185.0 L291.3 156.1 L305.2 161.8 L288.9 180.2 L314.4 172.2 M197.7 211.0 L220.9 196.6 L220.2 192.7 L227.7 199.2 L247.7 164.0 L256.1 179.9 L279.2 198.7 L276.8 199.7 M173.8 124.0 L198.5 134.8 L178.3 118.9 L191.6 156.3 L206.9 138.2 L212.5 143.3 L216.2 157.4 L231.0 140.7 M201.2 178.2 L210.4 162.4 L222.6 164.6 L233.0 183.3 L241.7 172.3 L232.8 169.2 L248.3 175.6 L270.5 167.0 M179.5 183.3 L181.8 178.6 L183.7 124.4 L187.5 137.6 L185.1 150.2 L191.0 169.7 L197.7 171.7 L199.5 192.1 M198.0 201.4 L209.7 192.7 L236.6 168.9 L263.1 194.3 L288.0 186.7 L286.5 178.1 L312.5 185.8 L336.8 187.5 M125.5 22.6 L121.3 63.8 L126.9 71.1 L139.4 68.0 L151.2 62.1 L156.8 99.9 L166.1 110.1 L175.3 99.6 M184.6 52.0 L196.2 63.8 L207.8 74.5 L226.3 60.9 L242.5 65.7 L254.1 90.1 L265.7 82.6 L277.3 55.4 M277.3 176.8 L288.9 171.8 L300.5 177.3 L312.1 182.4 L319.0 178.2 L323.6 177.3 M300.5 146.8 L339.9 46.9 L345.7 47.7 L351.5 62.6 L358.4 77.0 L370.0 99.9 L381.6 112.7 L393.2 110.1 M149.8 84.7 L161.4 82.1 L180.0 70.2 L195.0 29.1 L207.8 72.8 L226.3 71.4 L235.6 63.5 L244.8 61.7 M207.8 108.5 L219.4 87.2 L230.9 71.9 L242.5 56.6 L254.1 71.1 L275.4 29.4 L281.9 41.8 L307.0 40.4 M138.2 127.3 L149.8 108.4 L161.4 77.0 L166.1 66.9 L173.0 81.3 L184.6 96.5 L196.2 62.3 L210.8 25.2 M161.4 117.0 L173.0 98.2 L196.2 83.3 L221.0 41.3 L230.9 77.0 L242.5 104.2 L254.1 114.4 L265.7 116.9 M184.6 97.5 L203.1 83.8 L219.4 92.3 L242.5 46.4 L254.1 58.4 L277.3 95.7 L288.9 110.1 L300.5 111.8 M254.1 187.6 L265.7 182.4 L277.3 178.2 L288.9 172.3 L300.5 168.0 L312.1 164.6 L323.6 149.3 L335.2 45.5 M149.8 245.4 L154.5 244.5 L161.4 231.7 L180.0 225.3 L196.2 231.7 L207.8 230.9 L212.4 233.4 L219.4 231.7 M108.1 228.4 L115.1 224.6 L126.7 225.8 L138.2 225.3 L149.8 219.9 L156.8 245.8 L161.4 228.4 L173.0 229.2 M69.4 225.9 L103.5 235.5 L115.1 209.7 L126.7 208.8 L138.2 212.2 L149.8 224.1 L161.4 219.9 L166.1 224.9 M242.5 230.1 L254.1 210.5 L277.3 207.1 L295.8 235.5 L312.1 234.3 L323.6 235.1 L335.2 240.2 L342.2 238.5 M407.1 84.8 L489.4 25.1 M338.1 65.7 L342.2 67.8 L360.4 61.7 L381.5 57.0 L384.8 55.6 L392.9 96.2 L447.6 90.5 L532.8 77.9 M360.4 67.0 L388.8 123.8 M410.0 84.2 L426.1 100.2 L443.6 161.1 L455.8 165.2 L480.1 165.2 M436.3 144.0 L451.7 140.0 L472.8 113.2 L504.4 164.4 M390.0 136.0 L413.2 136.8 L433.4 134.7 L465.9 123.8 L478.1 123.8 L528.0 133.9 M368.5 171.2 L403.0 148.1 L455.0 172.5 M403.0 120.5 L394.9 177.3 M335.0 150.0 L368.5 171.2 L384.8 179.4 M364.5 98.2 L386.8 100.2 L392.9 96.2 M355.2 84.0 L370.6 106.3 L378.7 110.4 L345.0 118.0 M348.3 195.6 L358.4 191.5 L368.5 197.6 M390.0 193.6 L405.0 209.0 M411.1 192.4 L408.0 209.0 M348.3 210.6 L366.5 209.8 L372.6 209.8 M336.1 220.0 L338.1 226.0 L344.2 240.2 L414.4 238.2 M427.4 249.6 L461.8 207.8 L505.3 222.0 L505.3 224.0 M341.0 277.6 L350.3 275.5 L352.3 261.8 L372.6 249.2 L380.7 252.4 L386.8 247.1 L403.0 256.9 L421.3 247.1 M421.3 247.1 L427.4 249.6 M306.0 175.0 L341.0 277.6 M240.0 82.0 L294.0 73.7 L305.1 97.5 L284.4 100.1 L270.0 118.0 M250.0 110.0 L260.6 91.8 L262.0 120.0 M300.0 105.0 L328.9 88.7 L335.2 89.6 L341.6 90.6 L325.7 100.1 L335.2 110.2 M305.1 97.5 L318.0 104.0 L330.0 112.0 M345.0 95.0 L394.9 177.3 M206.6 235.0 L213.2 235.0 L219.8 233.1 L225.1 232.3 L231.7 232.3 L239.2 232.3 M231.7 219.9 L242.3 220.4 L263.0 227.6 L276.7 224.4 L291.3 231.0 L292.0 229.2 M157.9 246.0 L161.9 246.0 L177.2 232.5 L186.4 246.0 M207.9 225.7 L215.9 226.5 L201.5 227.0 L192.3 225.2" fill="none" stroke="#1a476f" stroke-width="0.6" stroke-linejoin="round"/>
<g fill="#1a476f"><circle cx="187.0" cy="178.9" r="1.35"/><circle cx="202.4" cy="162.9" r="1.35"/><circle cx="203.5" cy="124.7" r="1.35"/><circle cx="208.2" cy="130.1" r="1.35"/><circle cx="218.9" cy="106.0" r="1.35"/><circle cx="225.3" cy="122.1" r="1.35"/><circle cx="230.2" cy="157.2" r="1.35"/><circle cx="246.7" cy="152.4" r="1.35"/><circle cx="199.3" cy="185.1" r="1.35"/><circle cx="191.1" cy="171.4" r="1.35"/><circle cx="221.1" cy="190.2" r="1.35"/><circle cx="253.5" cy="181.7" r="1.35"/><circle cx="252.7" cy="189.1" r="1.35"/><circle cx="248.3" cy="191.1" r="1.35"/><circle cx="285.6" cy="201.2" r="1.35"/><circle cx="289.6" cy="147.8" r="1.35"/><circle cx="258.9" cy="165.5" r="1.35"/><circle cx="275.2" cy="156.0" r="1.35"/><circle cx="276.7" cy="154.4" r="1.35"/><circle cx="271.9" cy="158.6" r="1.35"/><circle cx="274.3" cy="189.3" r="1.35"/><circle cx="301.3" cy="172.4" r="1.35"/><circle cx="309.4" cy="169.2" r="1.35"/><circle cx="303.9" cy="162.1" r="1.35"/><circle cx="145.2" cy="200.4" r="1.35"/><circle cx="145.3" cy="166.3" r="1.35"/><circle cx="159.0" cy="144.2" r="1.35"/><circle cx="169.6" cy="166.8" r="1.35"/><circle cx="171.5" cy="145.5" r="1.35"/><circle cx="188.0" cy="172.3" r="1.35"/><circle cx="198.4" cy="170.6" r="1.35"/><circle cx="200.6" cy="174.8" r="1.35"/><circle cx="205.6" cy="150.2" r="1.35"/><circle cx="236.3" cy="150.7" r="1.35"/><circle cx="232.4" cy="126.9" r="1.35"/><circle cx="262.9" cy="115.2" r="1.35"/><circle cx="259.9" cy="133.1" r="1.35"/><circle cx="289.4" cy="177.3" r="1.35"/><circle cx="295.4" cy="175.4" r="1.35"/><circle cx="310.3" cy="153.6" r="1.35"/><circle cx="149.4" cy="190.2" r="1.35"/><circle cx="170.2" cy="187.5" r="1.35"/><circle cx="172.7" cy="192.1" r="1.35"/><circle cx="181.7" cy="201.5" r="1.35"/><circle cx="194.8" cy="199.0" r="1.35"/><circle cx="217.8" cy="187.5" r="1.35"/><circle cx="234.3" cy="191.0" r="1.35"/><circle cx="227.5" cy="192.7" r="1.35"/><circle cx="194.6" cy="174.8" r="1.35"/><circle cx="208.0" cy="119.5" r="1.35"/><circle cx="218.5" cy="89.8" r="1.35"/><circle cx="227.9" cy="90.6" r="1.35"/><circle cx="248.4" cy="116.6" r="1.35"/><circle cx="247.3" cy="116.0" r="1.35"/><circle cx="261.1" cy="136.5" r="1.35"/><circle cx="265.2" cy="127.2" r="1.35"/><circle cx="168.9" cy="214.0" r="1.35"/><circle cx="189.2" cy="208.0" r="1.35"/><circle cx="193.2" cy="204.6" r="1.35"/><circle cx="203.9" cy="205.4" r="1.35"/><circle cx="216.8" cy="210.5" r="1.35"/><circle cx="221.1" cy="221.6" r="1.35"/><circle cx="219.3" cy="211.4" r="1.35"/><circle cx="220.4" cy="215.8" r="1.35"/><circle cx="164.6" cy="185.0" r="1.35"/><circle cx="172.3" cy="162.1" r="1.35"/><circle cx="179.7" cy="127.2" r="1.35"/><circle cx="183.1" cy="144.2" r="1.35"/><circle cx="185.0" cy="158.7" r="1.35"/><circle cx="182.3" cy="185.0" r="1.35"/><circle cx="200.6" cy="180.7" r="1.35"/><circle cx="184.8" cy="190.2" r="1.35"/><circle cx="155.3" cy="224.2" r="1.35"/><circle cx="160.1" cy="204.4" r="1.35"/><circle cx="181.2" cy="196.1" r="1.35"/><circle cx="184.1" cy="202.1" r="1.35"/><circle cx="195.3" cy="204.6" r="1.35"/><circle cx="206.4" cy="205.4" r="1.35"/><circle cx="212.6" cy="208.8" r="1.35"/><circle cx="230.3" cy="215.5" r="1.35"/><circle cx="181.8" cy="151.9" r="1.35"/><circle cx="199.6" cy="144.2" r="1.35"/><circle cx="197.6" cy="123.8" r="1.35"/><circle cx="201.8" cy="106.8" r="1.35"/><circle cx="202.0" cy="123.8" r="1.35"/><circle cx="221.4" cy="133.1" r="1.35"/><circle cx="235.9" cy="124.8" r="1.35"/><circle cx="229.9" cy="149.9" r="1.35"/><circle cx="225.3" cy="192.8" r="1.35"/><circle cx="244.6" cy="195.3" r="1.35"/><circle cx="255.4" cy="150.2" r="1.35"/><circle cx="241.5" cy="160.4" r="1.35"/><circle cx="259.8" cy="138.3" r="1.35"/><circle cx="265.7" cy="174.8" r="1.35"/><circle cx="287.5" cy="168.8" r="1.35"/><circle cx="275.9" cy="173.7" r="1.35"/><circle cx="192.1" cy="111.9" r="1.35"/><circle cx="190.1" cy="113.9" r="1.35"/><circle cx="208.2" cy="95.7" r="1.35"/><circle cx="224.7" cy="86.4" r="1.35"/><circle cx="215.5" cy="107.7" r="1.35"/><circle cx="242.1" cy="114.0" r="1.35"/><circle cx="239.1" cy="138.0" r="1.35"/><circle cx="228.8" cy="168.5" r="1.35"/><circle cx="170.9" cy="181.6" r="1.35"/><circle cx="178.0" cy="160.4" r="1.35"/><circle cx="182.8" cy="130.6" r="1.35"/><circle cx="187.9" cy="128.9" r="1.35"/><circle cx="199.0" cy="112.2" r="1.35"/><circle cx="207.5" cy="145.9" r="1.35"/><circle cx="206.8" cy="173.1" r="1.35"/><circle cx="198.0" cy="151.0" r="1.35"/><circle cx="209.1" cy="206.3" r="1.35"/><circle cx="209.2" cy="180.7" r="1.35"/><circle cx="231.7" cy="166.3" r="1.35"/><circle cx="242.7" cy="194.9" r="1.35"/><circle cx="252.9" cy="195.3" r="1.35"/><circle cx="273.6" cy="209.0" r="1.35"/><circle cx="268.2" cy="203.7" r="1.35"/><circle cx="281.7" cy="195.2" r="1.35"/><circle cx="140.8" cy="174.6" r="1.35"/><circle cx="161.8" cy="132.3" r="1.35"/><circle cx="160.5" cy="137.4" r="1.35"/><circle cx="170.6" cy="136.5" r="1.35"/><circle cx="181.7" cy="114.1" r="1.35"/><circle cx="182.9" cy="171.0" r="1.35"/><circle cx="223.2" cy="174.2" r="1.35"/><circle cx="215.1" cy="177.2" r="1.35"/><circle cx="187.9" cy="215.7" r="1.35"/><circle cx="197.0" cy="205.5" r="1.35"/><circle cx="213.9" cy="202.7" r="1.35"/><circle cx="226.5" cy="206.2" r="1.35"/><circle cx="226.3" cy="202.1" r="1.35"/><circle cx="264.2" cy="211.4" r="1.35"/><circle cx="246.7" cy="230.9" r="1.35"/><circle cx="289.0" cy="206.3" r="1.35"/><circle cx="248.4" cy="168.0" r="1.35"/><circle cx="245.3" cy="125.6" r="1.35"/><circle cx="243.7" cy="140.8" r="1.35"/><circle cx="253.4" cy="141.6" r="1.35"/><circle cx="275.2" cy="118.6" r="1.35"/><circle cx="268.6" cy="145.4" r="1.35"/><circle cx="277.5" cy="133.9" r="1.35"/><circle cx="278.2" cy="122.0" r="1.35"/><circle cx="268.9" cy="81.3" r="1.35"/><circle cx="269.7" cy="103.3" r="1.35"/><circle cx="271.9" cy="122.2" r="1.35"/><circle cx="283.5" cy="151.9" r="1.35"/><circle cx="301.5" cy="139.2" r="1.35"/><circle cx="320.5" cy="153.6" r="1.35"/><circle cx="316.2" cy="159.1" r="1.35"/><circle cx="340.1" cy="143.3" r="1.35"/><circle cx="192.0" cy="179.9" r="1.35"/><circle cx="186.7" cy="127.2" r="1.35"/><circle cx="200.0" cy="124.7" r="1.35"/><circle cx="203.7" cy="122.4" r="1.35"/><circle cx="205.0" cy="126.3" r="1.35"/><circle cx="233.7" cy="118.6" r="1.35"/><circle cx="206.4" cy="146.9" r="1.35"/><circle cx="225.6" cy="169.9" r="1.35"/><circle cx="155.4" cy="113.6" r="1.35"/><circle cx="157.4" cy="85.5" r="1.35"/><circle cx="165.0" cy="100.8" r="1.35"/><circle cx="184.4" cy="83.8" r="1.35"/><circle cx="194.9" cy="98.2" r="1.35"/><circle cx="188.2" cy="118.6" r="1.35"/><circle cx="203.0" cy="124.6" r="1.35"/><circle cx="207.9" cy="101.6" r="1.35"/><circle cx="191.7" cy="203.0" r="1.35"/><circle cx="204.0" cy="205.4" r="1.35"/><circle cx="230.7" cy="183.1" r="1.35"/><circle cx="236.3" cy="191.9" r="1.35"/><circle cx="285.8" cy="184.6" r="1.35"/><circle cx="270.4" cy="192.7" r="1.35"/><circle cx="326.1" cy="200.9" r="1.35"/><circle cx="319.7" cy="192.6" r="1.35"/><circle cx="185.4" cy="138.3" r="1.35"/><circle cx="197.0" cy="126.7" r="1.35"/><circle cx="198.2" cy="108.7" r="1.35"/><circle cx="198.0" cy="88.9" r="1.35"/><circle cx="209.8" cy="110.4" r="1.35"/><circle cx="222.3" cy="111.0" r="1.35"/><circle cx="217.4" cy="133.7" r="1.35"/><circle cx="219.1" cy="145.8" r="1.35"/><circle cx="156.3" cy="155.3" r="1.35"/><circle cx="166.9" cy="108.2" r="1.35"/><circle cx="166.3" cy="98.2" r="1.35"/><circle cx="179.5" cy="108.2" r="1.35"/><circle cx="189.4" cy="105.9" r="1.35"/><circle cx="194.7" cy="116.1" r="1.35"/><circle cx="202.0" cy="136.0" r="1.35"/><circle cx="217.8" cy="129.5" r="1.35"/><circle cx="143.5" cy="170.3" r="1.35"/><circle cx="139.6" cy="150.2" r="1.35"/><circle cx="146.1" cy="134.0" r="1.35"/><circle cx="155.6" cy="137.8" r="1.35"/><circle cx="159.2" cy="130.4" r="1.35"/><circle cx="166.9" cy="148.5" r="1.35"/><circle cx="181.9" cy="168.0" r="1.35"/><circle cx="167.1" cy="167.2" r="1.35"/><circle cx="207.4" cy="120.4" r="1.35"/><circle cx="201.2" cy="122.0" r="1.35"/><circle cx="214.6" cy="113.5" r="1.35"/><circle cx="224.3" cy="126.3" r="1.35"/><circle cx="235.2" cy="112.9" r="1.35"/><circle cx="269.4" cy="151.0" r="1.35"/><circle cx="274.3" cy="160.6" r="1.35"/><circle cx="256.7" cy="143.7" r="1.35"/><circle cx="175.7" cy="120.9" r="1.35"/><circle cx="177.1" cy="119.4" r="1.35"/><circle cx="188.4" cy="110.1" r="1.35"/><circle cx="208.1" cy="99.1" r="1.35"/><circle cx="208.7" cy="116.1" r="1.35"/><circle cx="218.7" cy="110.4" r="1.35"/><circle cx="261.3" cy="122.0" r="1.35"/><circle cx="241.4" cy="138.2" r="1.35"/><circle cx="173.2" cy="123.9" r="1.35"/><circle cx="188.6" cy="104.7" r="1.35"/><circle cx="196.8" cy="110.6" r="1.35"/><circle cx="205.5" cy="129.8" r="1.35"/><circle cx="219.3" cy="128.9" r="1.35"/><circle cx="222.9" cy="167.2" r="1.35"/><circle cx="214.0" cy="153.6" r="1.35"/><circle cx="256.6" cy="179.9" r="1.35"/><circle cx="152.3" cy="143.2" r="1.35"/><circle cx="168.1" cy="155.3" r="1.35"/><circle cx="164.6" cy="116.9" r="1.35"/><circle cx="171.8" cy="106.7" r="1.35"/><circle cx="187.5" cy="108.4" r="1.35"/><circle cx="202.7" cy="142.7" r="1.35"/><circle cx="221.3" cy="142.6" r="1.35"/><circle cx="212.9" cy="172.2" r="1.35"/><circle cx="284.5" cy="152.1" r="1.35"/><circle cx="291.1" cy="124.7" r="1.35"/><circle cx="311.0" cy="144.8" r="1.35"/><circle cx="320.1" cy="157.0" r="1.35"/><circle cx="332.0" cy="121.2" r="1.35"/><circle cx="315.7" cy="135.7" r="1.35"/><circle cx="329.0" cy="134.0" r="1.35"/><circle cx="337.6" cy="135.6" r="1.35"/><circle cx="188.5" cy="87.3" r="1.35"/><circle cx="202.8" cy="106.4" r="1.35"/><circle cx="214.1" cy="111.5" r="1.35"/><circle cx="216.8" cy="109.3" r="1.35"/><circle cx="212.9" cy="105.8" r="1.35"/><circle cx="245.8" cy="113.5" r="1.35"/><circle cx="250.9" cy="123.8" r="1.35"/><circle cx="254.3" cy="136.7" r="1.35"/><circle cx="181.1" cy="162.1" r="1.35"/><circle cx="186.9" cy="157.8" r="1.35"/><circle cx="189.5" cy="189.3" r="1.35"/><circle cx="206.1" cy="159.2" r="1.35"/><circle cx="197.6" cy="132.3" r="1.35"/><circle cx="200.2" cy="166.0" r="1.35"/><circle cx="210.7" cy="160.8" r="1.35"/><circle cx="206.9" cy="164.6" r="1.35"/><circle cx="171.2" cy="141.7" r="1.35"/><circle cx="163.9" cy="129.7" r="1.35"/><circle cx="192.0" cy="120.3" r="1.35"/><circle cx="195.2" cy="123.8" r="1.35"/><circle cx="206.3" cy="117.6" r="1.35"/><circle cx="206.8" cy="138.2" r="1.35"/><circle cx="209.4" cy="160.3" r="1.35"/><circle cx="213.4" cy="169.7" r="1.35"/><circle cx="146.9" cy="212.7" r="1.35"/><circle cx="149.0" cy="200.4" r="1.35"/><circle cx="166.0" cy="199.5" r="1.35"/><circle cx="182.5" cy="200.4" r="1.35"/><circle cx="205.8" cy="195.4" r="1.35"/><circle cx="221.3" cy="219.0" r="1.35"/><circle cx="255.1" cy="201.7" r="1.35"/><circle cx="274.0" cy="193.3" r="1.35"/><circle cx="188.5" cy="215.0" r="1.35"/><circle cx="198.0" cy="202.9" r="1.35"/><circle cx="219.8" cy="202.1" r="1.35"/><circle cx="237.8" cy="203.8" r="1.35"/><circle cx="247.4" cy="208.0" r="1.35"/><circle cx="252.0" cy="208.8" r="1.35"/><circle cx="273.8" cy="206.3" r="1.35"/><circle cx="295.1" cy="214.8" r="1.35"/><circle cx="198.4" cy="174.0" r="1.35"/><circle cx="186.6" cy="170.6" r="1.35"/><circle cx="195.0" cy="160.4" r="1.35"/><circle cx="190.1" cy="127.1" r="1.35"/><circle cx="206.7" cy="131.5" r="1.35"/><circle cx="192.1" cy="140.8" r="1.35"/><circle cx="208.1" cy="143.3" r="1.35"/><circle cx="229.0" cy="153.4" r="1.35"/><circle cx="237.2" cy="133.2" r="1.35"/><circle cx="240.3" cy="124.3" r="1.35"/><circle cx="239.3" cy="111.8" r="1.35"/><circle cx="240.9" cy="105.0" r="1.35"/><circle cx="250.6" cy="108.9" r="1.35"/><circle cx="254.8" cy="110.1" r="1.35"/><circle cx="249.3" cy="132.3" r="1.35"/><circle cx="263.4" cy="113.5" r="1.35"/><circle cx="157.5" cy="121.6" r="1.35"/><circle cx="164.8" cy="124.6" r="1.35"/><circle cx="184.7" cy="114.6" r="1.35"/><circle cx="182.1" cy="105.1" r="1.35"/><circle cx="186.8" cy="111.0" r="1.35"/><circle cx="197.7" cy="140.5" r="1.35"/><circle cx="202.9" cy="158.7" r="1.35"/><circle cx="226.0" cy="148.5" r="1.35"/><circle cx="141.6" cy="188.4" r="1.35"/><circle cx="154.9" cy="177.3" r="1.35"/><circle cx="165.7" cy="182.4" r="1.35"/><circle cx="190.4" cy="192.2" r="1.35"/><circle cx="188.8" cy="170.6" r="1.35"/><circle cx="189.9" cy="178.0" r="1.35"/><circle cx="207.7" cy="183.3" r="1.35"/><circle cx="206.7" cy="180.7" r="1.35"/><circle cx="183.7" cy="195.3" r="1.35"/><circle cx="194.2" cy="179.0" r="1.35"/><circle cx="216.2" cy="173.1" r="1.35"/><circle cx="224.0" cy="185.8" r="1.35"/><circle cx="228.0" cy="164.6" r="1.35"/><circle cx="249.8" cy="194.7" r="1.35"/><circle cx="263.0" cy="196.3" r="1.35"/><circle cx="254.3" cy="192.7" r="1.35"/><circle cx="242.0" cy="173.8" r="1.35"/><circle cx="246.4" cy="165.7" r="1.35"/><circle cx="239.0" cy="152.7" r="1.35"/><circle cx="270.2" cy="143.6" r="1.35"/><circle cx="271.0" cy="118.1" r="1.35"/><circle cx="259.0" cy="162.1" r="1.35"/><circle cx="274.8" cy="145.0" r="1.35"/><circle cx="269.8" cy="120.4" r="1.35"/><circle cx="155.4" cy="210.6" r="1.35"/><circle cx="185.4" cy="197.8" r="1.35"/><circle cx="184.9" cy="181.5" r="1.35"/><circle cx="206.1" cy="197.0" r="1.35"/><circle cx="204.3" cy="197.8" r="1.35"/><circle cx="233.3" cy="213.9" r="1.35"/><circle cx="244.2" cy="204.4" r="1.35"/><circle cx="270.7" cy="204.6" r="1.35"/><circle cx="218.6" cy="182.7" r="1.35"/><circle cx="225.4" cy="138.2" r="1.35"/><circle cx="233.5" cy="122.6" r="1.35"/><circle cx="246.3" cy="104.7" r="1.35"/><circle cx="263.3" cy="113.5" r="1.35"/><circle cx="290.9" cy="121.2" r="1.35"/><circle cx="303.7" cy="134.6" r="1.35"/><circle cx="324.0" cy="112.9" r="1.35"/><circle cx="156.9" cy="176.7" r="1.35"/><circle cx="180.7" cy="164.0" r="1.35"/><circle cx="179.6" cy="149.8" r="1.35"/><circle cx="182.9" cy="154.4" r="1.35"/><circle cx="178.3" cy="143.3" r="1.35"/><circle cx="194.7" cy="187.2" r="1.35"/><circle cx="203.1" cy="182.3" r="1.35"/><circle cx="208.6" cy="191.1" r="1.35"/><circle cx="164.9" cy="197.9" r="1.35"/><circle cx="172.2" cy="192.3" r="1.35"/><circle cx="186.2" cy="190.9" r="1.35"/><circle cx="209.7" cy="194.4" r="1.35"/><circle cx="223.9" cy="188.7" r="1.35"/><circle cx="229.0" cy="189.3" r="1.35"/><circle cx="222.4" cy="193.6" r="1.35"/><circle cx="268.1" cy="200.3" r="1.35"/><circle cx="209.1" cy="191.4" r="1.35"/><circle cx="224.3" cy="190.2" r="1.35"/><circle cx="250.1" cy="136.8" r="1.35"/><circle cx="253.4" cy="193.1" r="1.35"/><circle cx="245.3" cy="168.2" r="1.35"/><circle cx="284.7" cy="190.2" r="1.35"/><circle cx="296.4" cy="190.9" r="1.35"/><circle cx="314.3" cy="175.8" r="1.35"/><circle cx="171.8" cy="158.7" r="1.35"/><circle cx="159.9" cy="127.8" r="1.35"/><circle cx="167.8" cy="129.6" r="1.35"/><circle cx="163.5" cy="139.1" r="1.35"/><circle cx="168.4" cy="140.8" r="1.35"/><circle cx="182.0" cy="135.8" r="1.35"/><circle cx="176.0" cy="136.5" r="1.35"/><circle cx="189.8" cy="159.5" r="1.35"/><circle cx="261.1" cy="171.4" r="1.35"/><circle cx="277.8" cy="149.3" r="1.35"/><circle cx="296.5" cy="131.5" r="1.35"/><circle cx="276.7" cy="185.0" r="1.35"/><circle cx="291.3" cy="156.1" r="1.35"/><circle cx="305.2" cy="161.8" r="1.35"/><circle cx="288.9" cy="180.2" r="1.35"/><circle cx="314.4" cy="172.2" r="1.35"/><circle cx="197.7" cy="211.0" r="1.35"/><circle cx="220.9" cy="196.6" r="1.35"/><circle cx="220.2" cy="192.7" r="1.35"/><circle cx="227.7" cy="199.2" r="1.35"/><circle cx="247.7" cy="164.0" r="1.35"/><circle cx="256.1" cy="179.9" r="1.35"/><circle cx="279.2" cy="198.7" r="1.35"/><circle cx="276.8" cy="199.7" r="1.35"/><circle cx="173.8" cy="124.0" r="1.35"/><circle cx="198.5" cy="134.8" r="1.35"/><circle cx="178.3" cy="118.9" r="1.35"/><circle cx="191.6" cy="156.3" r="1.35"/><circle cx="206.9" cy="138.2" r="1.35"/><circle cx="212.5" cy="143.3" r="1.35"/><circle cx="216.2" cy="157.4" r="1.35"/><circle cx="231.0" cy="140.7" r="1.35"/><circle cx="201.2" cy="178.2" r="1.35"/><circle cx="210.4" cy="162.4" r="1.35"/><circle cx="222.6" cy="164.6" r="1.35"/><circle cx="233.0" cy="183.3" r="1.35"/><circle cx="241.7" cy="172.3" r="1.35"/><circle cx="232.8" cy="169.2" r="1.35"/><circle cx="248.3" cy="175.6" r="1.35"/><circle cx="270.5" cy="167.0" r="1.35"/><circle cx="179.5" cy="183.3" r="1.35"/><circle cx="181.8" cy="178.6" r="1.35"/><circle cx="183.7" cy="124.4" r="1.35"/><circle cx="187.5" cy="137.6" r="1.35"/><circle cx="185.1" cy="150.2" r="1.35"/><circle cx="191.0" cy="169.7" r="1.35"/><circle cx="197.7" cy="171.7" r="1.35"/><circle cx="199.5" cy="192.1" r="1.35"/><circle cx="198.0" cy="201.4" r="1.35"/><circle cx="209.7" cy="192.7" r="1.35"/><circle cx="236.6" cy="168.9" r="1.35"/><circle cx="263.1" cy="194.3" r="1.35"/><circle cx="288.0" cy="186.7" r="1.35"/><circle cx="286.5" cy="178.1" r="1.35"/><circle cx="312.5" cy="185.8" r="1.35"/><circle cx="336.8" cy="187.5" r="1.35"/><circle cx="125.5" cy="22.6" r="1.35"/><circle cx="121.3" cy="63.8" r="1.35"/><circle cx="126.9" cy="71.1" r="1.35"/><circle cx="139.4" cy="68.0" r="1.35"/><circle cx="151.2" cy="62.1" r="1.35"/><circle cx="156.8" cy="99.9" r="1.35"/><circle cx="166.1" cy="110.1" r="1.35"/><circle cx="175.3" cy="99.6" r="1.35"/><circle cx="184.6" cy="52.0" r="1.35"/><circle cx="196.2" cy="63.8" r="1.35"/><circle cx="207.8" cy="74.5" r="1.35"/><circle cx="226.3" cy="60.9" r="1.35"/><circle cx="242.5" cy="65.7" r="1.35"/><circle cx="254.1" cy="90.1" r="1.35"/><circle cx="265.7" cy="82.6" r="1.35"/><circle cx="277.3" cy="55.4" r="1.35"/><circle cx="277.3" cy="176.8" r="1.35"/><circle cx="288.9" cy="171.8" r="1.35"/><circle cx="300.5" cy="177.3" r="1.35"/><circle cx="312.1" cy="182.4" r="1.35"/><circle cx="319.0" cy="178.2" r="1.35"/><circle cx="323.6" cy="177.3" r="1.35"/><circle cx="300.5" cy="146.8" r="1.35"/><circle cx="339.9" cy="46.9" r="1.35"/><circle cx="345.7" cy="47.7" r="1.35"/><circle cx="351.5" cy="62.6" r="1.35"/><circle cx="358.4" cy="77.0" r="1.35"/><circle cx="370.0" cy="99.9" r="1.35"/><circle cx="381.6" cy="112.7" r="1.35"/><circle cx="393.2" cy="110.1" r="1.35"/><circle cx="149.8" cy="84.7" r="1.35"/><circle cx="161.4" cy="82.1" r="1.35"/><circle cx="180.0" cy="70.2" r="1.35"/><circle cx="195.0" cy="29.1" r="1.35"/><circle cx="207.8" cy="72.8" r="1.35"/><circle cx="226.3" cy="71.4" r="1.35"/><circle cx="235.6" cy="63.5" r="1.35"/><circle cx="244.8" cy="61.7" r="1.35"/><circle cx="207.8" cy="108.5" r="1.35"/><circle cx="219.4" cy="87.2" r="1.35"/><circle cx="230.9" cy="71.9" r="1.35"/><circle cx="242.5" cy="56.6" r="1.35"/><circle cx="254.1" cy="71.1" r="1.35"/><circle cx="275.4" cy="29.4" r="1.35"/><circle cx="281.9" cy="41.8" r="1.35"/><circle cx="307.0" cy="40.4" r="1.35"/><circle cx="138.2" cy="127.3" r="1.35"/><circle cx="149.8" cy="108.4" r="1.35"/><circle cx="161.4" cy="77.0" r="1.35"/><circle cx="166.1" cy="66.9" r="1.35"/><circle cx="173.0" cy="81.3" r="1.35"/><circle cx="184.6" cy="96.5" r="1.35"/><circle cx="196.2" cy="62.3" r="1.35"/><circle cx="210.8" cy="25.2" r="1.35"/><circle cx="161.4" cy="117.0" r="1.35"/><circle cx="173.0" cy="98.2" r="1.35"/><circle cx="196.2" cy="83.3" r="1.35"/><circle cx="221.0" cy="41.3" r="1.35"/><circle cx="230.9" cy="77.0" r="1.35"/><circle cx="242.5" cy="104.2" r="1.35"/><circle cx="254.1" cy="114.4" r="1.35"/><circle cx="265.7" cy="116.9" r="1.35"/><circle cx="184.6" cy="97.5" r="1.35"/><circle cx="203.1" cy="83.8" r="1.35"/><circle cx="219.4" cy="92.3" r="1.35"/><circle cx="242.5" cy="46.4" r="1.35"/><circle cx="254.1" cy="58.4" r="1.35"/><circle cx="277.3" cy="95.7" r="1.35"/><circle cx="288.9" cy="110.1" r="1.35"/><circle cx="300.5" cy="111.8" r="1.35"/><circle cx="254.1" cy="187.6" r="1.35"/><circle cx="265.7" cy="182.4" r="1.35"/><circle cx="277.3" cy="178.2" r="1.35"/><circle cx="288.9" cy="172.3" r="1.35"/><circle cx="300.5" cy="168.0" r="1.35"/><circle cx="312.1" cy="164.6" r="1.35"/><circle cx="323.6" cy="149.3" r="1.35"/><circle cx="335.2" cy="45.5" r="1.35"/><circle cx="149.8" cy="245.4" r="1.35"/><circle cx="154.5" cy="244.5" r="1.35"/><circle cx="161.4" cy="231.7" r="1.35"/><circle cx="180.0" cy="225.3" r="1.35"/><circle cx="196.2" cy="231.7" r="1.35"/><circle cx="207.8" cy="230.9" r="1.35"/><circle cx="212.4" cy="233.4" r="1.35"/><circle cx="219.4" cy="231.7" r="1.35"/><circle cx="108.1" cy="228.4" r="1.35"/><circle cx="115.1" cy="224.6" r="1.35"/><circle cx="126.7" cy="225.8" r="1.35"/><circle cx="138.2" cy="225.3" r="1.35"/><circle cx="149.8" cy="219.9" r="1.35"/><circle cx="156.8" cy="245.8" r="1.35"/><circle cx="161.4" cy="228.4" r="1.35"/><circle cx="173.0" cy="229.2" r="1.35"/><circle cx="69.4" cy="225.9" r="1.35"/><circle cx="103.5" cy="235.5" r="1.35"/><circle cx="115.1" cy="209.7" r="1.35"/><circle cx="126.7" cy="208.8" r="1.35"/><circle cx="138.2" cy="212.2" r="1.35"/><circle cx="149.8" cy="224.1" r="1.35"/><circle cx="161.4" cy="219.9" r="1.35"/><circle cx="166.1" cy="224.9" r="1.35"/><circle cx="242.5" cy="230.1" r="1.35"/><circle cx="254.1" cy="210.5" r="1.35"/><circle cx="277.3" cy="207.1" r="1.35"/><circle cx="295.8" cy="235.5" r="1.35"/><circle cx="312.1" cy="234.3" r="1.35"/><circle cx="323.6" cy="235.1" r="1.35"/><circle cx="335.2" cy="240.2" r="1.35"/><circle cx="342.2" cy="238.5" r="1.35"/><circle cx="407.1" cy="84.8" r="1.35"/><circle cx="489.4" cy="25.1" r="1.35"/><circle cx="338.1" cy="65.7" r="1.35"/><circle cx="342.2" cy="67.8" r="1.35"/><circle cx="360.4" cy="61.7" r="1.35"/><circle cx="381.5" cy="57.0" r="1.35"/><circle cx="384.8" cy="55.6" r="1.35"/><circle cx="392.9" cy="96.2" r="1.35"/><circle cx="447.6" cy="90.5" r="1.35"/><circle cx="532.8" cy="77.9" r="1.35"/><circle cx="360.4" cy="67.0" r="1.35"/><circle cx="388.8" cy="123.8" r="1.35"/><circle cx="410.0" cy="84.2" r="1.35"/><circle cx="426.1" cy="100.2" r="1.35"/><circle cx="443.6" cy="161.1" r="1.35"/><circle cx="455.8" cy="165.2" r="1.35"/><circle cx="480.1" cy="165.2" r="1.35"/><circle cx="436.3" cy="144.0" r="1.35"/><circle cx="451.7" cy="140.0" r="1.35"/><circle cx="472.8" cy="113.2" r="1.35"/><circle cx="504.4" cy="164.4" r="1.35"/><circle cx="390.0" cy="136.0" r="1.35"/><circle cx="413.2" cy="136.8" r="1.35"/><circle cx="433.4" cy="134.7" r="1.35"/><circle cx="465.9" cy="123.8" r="1.35"/><circle cx="478.1" cy="123.8" r="1.35"/><circle cx="528.0" cy="133.9" r="1.35"/><circle cx="368.5" cy="171.2" r="1.35"/><circle cx="403.0" cy="148.1" r="1.35"/><circle cx="455.0" cy="172.5" r="1.35"/><circle cx="403.0" cy="120.5" r="1.35"/><circle cx="394.9" cy="177.3" r="1.35"/><circle cx="335.0" cy="150.0" r="1.35"/><circle cx="368.5" cy="171.2" r="1.35"/><circle cx="384.8" cy="179.4" r="1.35"/><circle cx="364.5" cy="98.2" r="1.35"/><circle cx="386.8" cy="100.2" r="1.35"/><circle cx="392.9" cy="96.2" r="1.35"/><circle cx="355.2" cy="84.0" r="1.35"/><circle cx="370.6" cy="106.3" r="1.35"/><circle cx="378.7" cy="110.4" r="1.35"/><circle cx="345.0" cy="118.0" r="1.35"/><circle cx="348.3" cy="195.6" r="1.35"/><circle cx="358.4" cy="191.5" r="1.35"/><circle cx="368.5" cy="197.6" r="1.35"/><circle cx="390.0" cy="193.6" r="1.35"/><circle cx="405.0" cy="209.0" r="1.35"/><circle cx="411.1" cy="192.4" r="1.35"/><circle cx="408.0" cy="209.0" r="1.35"/><circle cx="348.3" cy="210.6" r="1.35"/><circle cx="366.5" cy="209.8" r="1.35"/><circle cx="372.6" cy="209.8" r="1.35"/><circle cx="336.1" cy="220.0" r="1.35"/><circle cx="338.1" cy="226.0" r="1.35"/><circle cx="344.2" cy="240.2" r="1.35"/><circle cx="414.4" cy="238.2" r="1.35"/><circle cx="427.4" cy="249.6" r="1.35"/><circle cx="461.8" cy="207.8" r="1.35"/><circle cx="505.3" cy="222.0" r="1.35"/><circle cx="505.3" cy="224.0" r="1.35"/><circle cx="341.0" cy="277.6" r="1.35"/><circle cx="350.3" cy="275.5" r="1.35"/><circle cx="352.3" cy="261.8" r="1.35"/><circle cx="372.6" cy="249.2" r="1.35"/><circle cx="380.7" cy="252.4" r="1.35"/><circle cx="386.8" cy="247.1" r="1.35"/><circle cx="403.0" cy="256.9" r="1.35"/><circle cx="421.3" cy="247.1" r="1.35"/><circle cx="421.3" cy="247.1" r="1.35"/><circle cx="427.4" cy="249.6" r="1.35"/><circle cx="306.0" cy="175.0" r="1.35"/><circle cx="341.0" cy="277.6" r="1.35"/><circle cx="240.0" cy="82.0" r="1.35"/><circle cx="294.0" cy="73.7" r="1.35"/><circle cx="305.1" cy="97.5" r="1.35"/><circle cx="284.4" cy="100.1" r="1.35"/><circle cx="270.0" cy="118.0" r="1.35"/><circle cx="250.0" cy="110.0" r="1.35"/><circle cx="260.6" cy="91.8" r="1.35"/><circle cx="262.0" cy="120.0" r="1.35"/><circle cx="300.0" cy="105.0" r="1.35"/><circle cx="328.9" cy="88.7" r="1.35"/><circle cx="335.2" cy="89.6" r="1.35"/><circle cx="341.6" cy="90.6" r="1.35"/><circle cx="325.7" cy="100.1" r="1.35"/><circle cx="335.2" cy="110.2" r="1.35"/><circle cx="305.1" cy="97.5" r="1.35"/><circle cx="318.0" cy="104.0" r="1.35"/><circle cx="330.0" cy="112.0" r="1.35"/><circle cx="345.0" cy="95.0" r="1.35"/><circle cx="394.9" cy="177.3" r="1.35"/><circle cx="206.6" cy="235.0" r="1.35"/><circle cx="213.2" cy="235.0" r="1.35"/><circle cx="219.8" cy="233.1" r="1.35"/><circle cx="225.1" cy="232.3" r="1.35"/><circle cx="231.7" cy="232.3" r="1.35"/><circle cx="239.2" cy="232.3" r="1.35"/><circle cx="231.7" cy="219.9" r="1.35"/><circle cx="242.3" cy="220.4" r="1.35"/><circle cx="263.0" cy="227.6" r="1.35"/><circle cx="276.7" cy="224.4" r="1.35"/><circle cx="291.3" cy="231.0" r="1.35"/><circle cx="292.0" cy="229.2" r="1.35"/><circle cx="157.9" cy="246.0" r="1.35"/><circle cx="161.9" cy="246.0" r="1.35"/><circle cx="177.2" cy="232.5" r="1.35"/><circle cx="186.4" cy="246.0" r="1.35"/><circle cx="207.9" cy="225.7" r="1.35"/><circle cx="215.9" cy="226.5" r="1.35"/><circle cx="201.5" cy="227.0" r="1.35"/><circle cx="192.3" cy="225.2" r="1.35"/></g>
<g font-size="6.2" fill="#1f4a75"><text x="191.2" y="181.0">80</text><text x="206.6" y="165.0">80</text><text x="207.7" y="126.8">80</text><text x="212.4" y="132.2">80</text><text x="223.1" y="108.1">80</text><text x="229.5" y="124.2">80</text><text x="234.4" y="159.3">80</text><text x="250.9" y="154.5">80</text><text x="203.5" y="187.2">33</text><text x="195.3" y="173.5">33</text><text x="225.3" y="192.3">33</text><text x="257.7" y="183.8">33</text><text x="256.9" y="191.2">33</text><text x="252.5" y="193.2">33</text><text x="289.8" y="203.3">33</text><text x="293.8" y="149.9">33</text><text x="263.1" y="167.6">46</text><text x="279.4" y="158.1">46</text><text x="280.9" y="156.5">46</text><text x="276.1" y="160.7">46</text><text x="278.5" y="191.4">46</text><text x="305.5" y="174.5">46</text><text x="313.6" y="171.3">46</text><text x="308.1" y="164.2">46</text><text x="149.4" y="202.5">68</text><text x="149.5" y="168.4">68</text><text x="163.2" y="146.3">68</text><text x="173.8" y="168.9">68</text><text x="175.7" y="147.6">68</text><text x="192.2" y="174.4">68</text><text x="202.6" y="172.7">68</text><text x="204.8" y="176.9">68</text><text x="209.8" y="152.3">7</text><text x="240.5" y="152.8">7</text><text x="236.6" y="129.0">7</text><text x="267.1" y="117.3">7</text><text x="264.1" y="135.2">7</text><text x="293.6" y="179.4">7</text><text x="299.6" y="177.5">7</text><text x="314.5" y="155.7">7</text><text x="153.6" y="192.3">15</text><text x="174.4" y="189.6">15</text><text x="176.9" y="194.2">15</text><text x="185.9" y="203.6">15</text><text x="199.0" y="201.1">15</text><text x="222.0" y="189.6">15</text><text x="238.5" y="193.1">15</text><text x="231.7" y="194.8">15</text><text x="198.8" y="176.9">48</text><text x="212.2" y="121.6">48</text><text x="222.7" y="91.9">48</text><text x="232.1" y="92.7">48</text><text x="252.6" y="118.7">48</text><text x="251.5" y="118.1">48</text><text x="265.3" y="138.6">48</text><text x="269.4" y="129.3">48</text><text x="173.1" y="216.1">61</text><text x="193.4" y="210.1">61</text><text x="197.4" y="206.7">61</text><text x="208.1" y="207.5">61</text><text x="221.0" y="212.6">61</text><text x="225.3" y="223.7">61</text><text x="223.5" y="213.5">61</text><text x="224.6" y="217.9">61</text><text x="168.8" y="187.1">74</text><text x="176.5" y="164.2">74</text><text x="183.9" y="129.3">74</text><text x="187.3" y="146.3">74</text><text x="189.2" y="160.8">74</text><text x="186.5" y="187.1">74</text><text x="204.8" y="182.8">74</text><text x="189.0" y="192.3">74</text><text x="159.5" y="226.3">49</text><text x="164.3" y="206.5">49</text><text x="185.4" y="198.2">49</text><text x="188.3" y="204.2">49</text><text x="199.5" y="206.7">49</text><text x="210.6" y="207.5">49</text><text x="216.8" y="210.9">49</text><text x="234.5" y="217.6">49</text><text x="186.0" y="154.0">77</text><text x="203.8" y="146.3">77</text><text x="201.8" y="125.9">77</text><text x="206.0" y="108.9">77</text><text x="206.2" y="125.9">77</text><text x="225.6" y="135.2">77</text><text x="240.1" y="126.9">77</text><text x="234.1" y="152.0">77</text><text x="229.5" y="194.9">2</text><text x="248.8" y="197.4">2</text><text x="259.6" y="152.3">2</text><text x="245.7" y="162.5">2</text><text x="264.0" y="140.4">2</text><text x="269.9" y="176.9">2</text><text x="291.7" y="170.9">2</text><text x="280.1" y="175.8">2</text><text x="196.3" y="114.0">47</text><text x="194.3" y="116.0">47</text><text x="212.4" y="97.8">47</text><text x="228.9" y="88.5">47</text><text x="219.7" y="109.8">47</text><text x="246.3" y="116.1">47</text><text x="243.3" y="140.1">47</text><text x="233.0" y="170.6">47</text><text x="175.1" y="183.7">66</text><text x="182.2" y="162.5">66</text><text x="187.0" y="132.7">66</text><text x="192.1" y="131.0">66</text><text x="203.2" y="114.3">66</text><text x="211.7" y="148.0">66</text><text x="211.0" y="175.2">66</text><text x="202.2" y="153.1">66</text><text x="213.3" y="208.4">18</text><text x="213.4" y="182.8">18</text><text x="235.9" y="168.4">18</text><text x="246.9" y="197.0">18</text><text x="257.1" y="197.4">18</text><text x="277.8" y="211.1">18</text><text x="272.4" y="205.8">18</text><text x="285.9" y="197.3">18</text><text x="145.0" y="176.7">12</text><text x="166.0" y="134.4">12</text><text x="164.7" y="139.5">12</text><text x="174.8" y="138.6">12</text><text x="185.9" y="116.2">12</text><text x="187.1" y="173.1">12</text><text x="227.4" y="176.3">12</text><text x="219.3" y="179.3">12</text><text x="192.1" y="217.8">56</text><text x="201.2" y="207.6">56</text><text x="218.1" y="204.8">56</text><text x="230.7" y="208.3">56</text><text x="230.5" y="204.2">56</text><text x="268.4" y="213.5">56</text><text x="250.9" y="233.0">56</text><text x="293.2" y="208.4">56</text><text x="252.6" y="170.1">50</text><text x="249.5" y="127.7">50</text><text x="247.9" y="142.9">50</text><text x="257.6" y="143.7">50</text><text x="279.4" y="120.7">50</text><text x="272.8" y="147.5">50</text><text x="281.7" y="136.0">50</text><text x="282.4" y="124.1">50</text><text x="273.1" y="83.4">25</text><text x="273.9" y="105.4">25</text><text x="276.1" y="124.3">25</text><text x="287.7" y="154.0">25</text><text x="305.7" y="141.3">25</text><text x="324.7" y="155.7">25</text><text x="320.4" y="161.2">25</text><text x="344.3" y="145.4">25</text><text x="196.2" y="182.0">11</text><text x="190.9" y="129.3">11</text><text x="204.2" y="126.8">11</text><text x="207.9" y="124.5">11</text><text x="209.2" y="128.4">11</text><text x="237.9" y="120.7">11</text><text x="210.6" y="149.0">11</text><text x="229.8" y="172.0">11</text><text x="159.6" y="115.7">67</text><text x="161.6" y="87.6">67</text><text x="169.2" y="102.9">67</text><text x="188.6" y="85.9">67</text><text x="199.1" y="100.3">67</text><text x="192.4" y="120.7">67</text><text x="207.2" y="126.7">67</text><text x="212.1" y="103.7">67</text><text x="195.9" y="205.1">52</text><text x="208.2" y="207.5">52</text><text x="234.9" y="185.2">52</text><text x="240.5" y="194.0">52</text><text x="290.0" y="186.7">52</text><text x="274.6" y="194.8">52</text><text x="330.3" y="203.0">52</text><text x="323.9" y="194.7">52</text><text x="189.6" y="140.4">9</text><text x="201.2" y="128.8">9</text><text x="202.4" y="110.8">9</text><text x="202.2" y="91.0">9</text><text x="214.0" y="112.5">9</text><text x="226.5" y="113.1">9</text><text x="221.6" y="135.8">9</text><text x="223.3" y="147.9">9</text><text x="160.5" y="157.4">40</text><text x="171.1" y="110.3">40</text><text x="170.5" y="100.3">40</text><text x="183.7" y="110.3">40</text><text x="193.6" y="108.0">40</text><text x="198.9" y="118.2">40</text><text x="206.2" y="138.1">40</text><text x="222.0" y="131.6">40</text><text x="147.7" y="172.4">57</text><text x="143.8" y="152.3">57</text><text x="150.3" y="136.1">57</text><text x="159.8" y="139.9">57</text><text x="163.4" y="132.5">57</text><text x="171.1" y="150.6">57</text><text x="186.1" y="170.1">57</text><text x="171.3" y="169.3">57</text><text x="211.6" y="122.5">29</text><text x="205.4" y="124.1">29</text><text x="218.8" y="115.6">29</text><text x="228.5" y="128.4">29</text><text x="239.4" y="115.0">29</text><text x="273.6" y="153.1">29</text><text x="278.5" y="162.7">29</text><text x="260.9" y="145.8">29</text><text x="179.9" y="123.0">51</text><text x="181.3" y="121.5">51</text><text x="192.6" y="112.2">51</text><text x="212.3" y="101.2">51</text><text x="212.9" y="118.2">51</text><text x="222.9" y="112.5">51</text><text x="265.5" y="124.1">51</text><text x="245.6" y="140.3">51</text><text x="177.4" y="126.0">1</text><text x="192.8" y="106.8">1</text><text x="201.0" y="112.7">1</text><text x="209.7" y="131.9">1</text><text x="223.5" y="131.0">1</text><text x="227.1" y="169.3">1</text><text x="218.2" y="155.7">1</text><text x="260.8" y="182.0">1</text><text x="156.5" y="145.3">45</text><text x="172.3" y="157.4">45</text><text x="168.8" y="119.0">45</text><text x="176.0" y="108.8">45</text><text x="191.7" y="110.5">45</text><text x="206.9" y="144.8">45</text><text x="225.5" y="144.7">45</text><text x="217.1" y="174.3">45</text><text x="288.7" y="154.2">43</text><text x="295.3" y="126.8">43</text><text x="315.2" y="146.9">43</text><text x="324.3" y="159.1">43</text><text x="336.2" y="123.3">43</text><text x="319.9" y="137.8">43</text><text x="333.2" y="136.1">43</text><text x="341.8" y="137.7">43</text><text x="192.7" y="89.4">55</text><text x="207.0" y="108.5">55</text><text x="218.3" y="113.6">55</text><text x="221.0" y="111.4">55</text><text x="217.1" y="107.9">55</text><text x="250.0" y="115.6">55</text><text x="255.1" y="125.9">55</text><text x="258.5" y="138.8">55</text><text x="185.3" y="164.2">41</text><text x="191.1" y="159.9">41</text><text x="193.7" y="191.4">41</text><text x="210.3" y="161.3">41</text><text x="201.8" y="134.4">41</text><text x="204.4" y="168.1">41</text><text x="214.9" y="162.9">41</text><text x="211.1" y="166.7">41</text><text x="175.4" y="143.8">19</text><text x="168.1" y="131.8">19</text><text x="196.2" y="122.4">19</text><text x="199.4" y="125.9">19</text><text x="210.5" y="119.7">19</text><text x="211.0" y="140.3">19</text><text x="213.6" y="162.4">19</text><text x="217.6" y="171.8">19</text><text x="151.1" y="214.8">13</text><text x="153.2" y="202.5">13</text><text x="170.2" y="201.6">13</text><text x="186.7" y="202.5">13</text><text x="210.0" y="197.5">13</text><text x="225.5" y="221.1">13</text><text x="259.3" y="203.8">13</text><text x="278.2" y="195.4">13</text><text x="192.7" y="217.1">35</text><text x="202.2" y="205.0">35</text><text x="224.0" y="204.2">35</text><text x="242.0" y="205.9">35</text><text x="251.6" y="210.1">35</text><text x="256.2" y="210.9">35</text><text x="278.0" y="208.4">35</text><text x="299.3" y="216.9">35</text><text x="202.6" y="176.1">42</text><text x="190.8" y="172.7">42</text><text x="199.2" y="162.5">42</text><text x="194.3" y="129.2">42</text><text x="210.9" y="133.6">42</text><text x="196.3" y="142.9">42</text><text x="212.3" y="145.4">42</text><text x="233.2" y="155.5">42</text><text x="241.4" y="135.3">59</text><text x="244.5" y="126.4">59</text><text x="243.5" y="113.9">59</text><text x="245.1" y="107.1">59</text><text x="254.8" y="111.0">59</text><text x="259.0" y="112.2">59</text><text x="253.5" y="134.4">59</text><text x="267.6" y="115.6">59</text><text x="161.7" y="123.7">37</text><text x="169.0" y="126.7">37</text><text x="188.9" y="116.7">37</text><text x="186.3" y="107.2">37</text><text x="191.0" y="113.1">37</text><text x="201.9" y="142.6">37</text><text x="207.1" y="160.8">37</text><text x="230.2" y="150.6">37</text><text x="145.8" y="190.5">58</text><text x="159.1" y="179.4">58</text><text x="169.9" y="184.5">58</text><text x="194.6" y="194.3">58</text><text x="193.0" y="172.7">58</text><text x="194.1" y="180.1">58</text><text x="211.9" y="185.4">58</text><text x="210.9" y="182.8">58</text><text x="187.9" y="197.4">10</text><text x="198.4" y="181.1">10</text><text x="220.4" y="175.2">10</text><text x="228.2" y="187.9">10</text><text x="232.2" y="166.7">10</text><text x="254.0" y="196.8">10</text><text x="267.2" y="198.4">10</text><text x="258.5" y="194.8">10</text><text x="246.2" y="175.9">44</text><text x="250.6" y="167.8">44</text><text x="243.2" y="154.8">44</text><text x="274.4" y="145.7">44</text><text x="275.2" y="120.2">44</text><text x="263.2" y="164.2">44</text><text x="279.0" y="147.1">44</text><text x="274.0" y="122.5">44</text><text x="159.6" y="212.7">34</text><text x="189.6" y="199.9">34</text><text x="189.1" y="183.6">34</text><text x="210.3" y="199.1">34</text><text x="208.5" y="199.9">34</text><text x="237.5" y="216.0">34</text><text x="248.4" y="206.5">34</text><text x="274.9" y="206.7">34</text><text x="222.8" y="184.8">36</text><text x="229.6" y="140.3">36</text><text x="237.7" y="124.7">36</text><text x="250.5" y="106.8">36</text><text x="267.5" y="115.6">36</text><text x="295.1" y="123.3">36</text><text x="307.9" y="136.7">36</text><text x="328.2" y="115.0">36</text><text x="161.1" y="178.8">53</text><text x="184.9" y="166.1">53</text><text x="183.8" y="151.9">53</text><text x="187.1" y="156.5">53</text><text x="182.5" y="145.4">53</text><text x="198.9" y="189.3">53</text><text x="207.3" y="184.4">53</text><text x="212.8" y="193.2">53</text><text x="169.1" y="200.0">78</text><text x="176.4" y="194.4">78</text><text x="190.4" y="193.0">78</text><text x="213.9" y="196.5">78</text><text x="228.1" y="190.8">78</text><text x="233.2" y="191.4">78</text><text x="226.6" y="195.7">78</text><text x="272.3" y="202.4">78</text><text x="213.3" y="193.5">3</text><text x="228.5" y="192.3">3</text><text x="254.3" y="138.9">3</text><text x="257.6" y="195.2">3</text><text x="249.5" y="170.3">3</text><text x="288.9" y="192.3">3</text><text x="300.6" y="193.0">3</text><text x="318.5" y="177.9">3</text><text x="176.0" y="160.8">54</text><text x="164.1" y="129.9">54</text><text x="172.0" y="131.7">54</text><text x="167.7" y="141.2">54</text><text x="172.6" y="142.9">54</text><text x="186.2" y="137.9">54</text><text x="180.2" y="138.6">54</text><text x="194.0" y="161.6">54</text><text x="265.3" y="173.5">20</text><text x="282.0" y="151.4">20</text><text x="300.7" y="133.6">20</text><text x="280.9" y="187.1">20</text><text x="295.5" y="158.2">20</text><text x="309.4" y="163.9">20</text><text x="293.1" y="182.3">20</text><text x="318.6" y="174.3">20</text><text x="201.9" y="213.1">39</text><text x="225.1" y="198.7">39</text><text x="224.4" y="194.8">39</text><text x="231.9" y="201.3">39</text><text x="251.9" y="166.1">39</text><text x="260.3" y="182.0">39</text><text x="283.4" y="200.8">39</text><text x="281.0" y="201.8">39</text><text x="178.0" y="126.1">30</text><text x="202.7" y="136.9">30</text><text x="182.5" y="121.0">30</text><text x="195.8" y="158.4">30</text><text x="211.1" y="140.3">30</text><text x="216.7" y="145.4">30</text><text x="220.4" y="159.5">30</text><text x="235.2" y="142.8">30</text><text x="205.4" y="180.3">23</text><text x="214.6" y="164.5">23</text><text x="226.8" y="166.7">23</text><text x="237.2" y="185.4">23</text><text x="245.9" y="174.4">23</text><text x="237.0" y="171.3">23</text><text x="252.5" y="177.7">23</text><text x="274.7" y="169.1">23</text><text x="183.7" y="185.4">24</text><text x="186.0" y="180.7">24</text><text x="187.9" y="126.5">24</text><text x="191.7" y="139.7">24</text><text x="189.3" y="152.3">24</text><text x="195.2" y="171.8">24</text><text x="201.9" y="173.8">24</text><text x="203.7" y="194.2">24</text><text x="202.2" y="203.5">22</text><text x="213.9" y="194.8">22</text><text x="240.8" y="171.0">22</text><text x="267.3" y="196.4">22</text><text x="292.2" y="188.8">22</text><text x="290.7" y="180.2">22</text><text x="316.7" y="187.9">22</text><text x="341.0" y="189.6">22</text><text x="129.7" y="24.7">60</text><text x="125.5" y="65.9">60</text><text x="131.1" y="73.2">60</text><text x="143.6" y="70.1">60</text><text x="155.4" y="64.2">60</text><text x="161.0" y="102.0">60</text><text x="170.3" y="112.2">60</text><text x="179.5" y="101.7">60</text><text x="188.8" y="54.1">63</text><text x="200.4" y="65.9">63</text><text x="212.0" y="76.6">63</text><text x="230.5" y="63.0">63</text><text x="246.7" y="67.8">63</text><text x="258.3" y="92.2">63</text><text x="269.9" y="84.7">63</text><text x="281.5" y="57.5">63</text><text x="281.5" y="178.9">5</text><text x="293.1" y="173.9">5</text><text x="304.7" y="179.4">5</text><text x="316.3" y="184.5">5</text><text x="323.2" y="180.3">5</text><text x="327.8" y="179.4">5</text><text x="304.7" y="148.9">21</text><text x="344.1" y="49.0">21</text><text x="349.9" y="49.8">21</text><text x="355.7" y="64.7">21</text><text x="362.6" y="79.1">21</text><text x="374.2" y="102.0">21</text><text x="385.8" y="114.8">21</text><text x="397.4" y="112.2">21</text><text x="154.0" y="86.8">32</text><text x="165.6" y="84.2">32</text><text x="184.2" y="72.3">32</text><text x="199.2" y="31.2">32</text><text x="212.0" y="74.9">32</text><text x="230.5" y="73.5">32</text><text x="239.8" y="65.6">32</text><text x="249.0" y="63.8">32</text><text x="212.0" y="110.6">27</text><text x="223.6" y="89.3">27</text><text x="235.1" y="74.0">27</text><text x="246.7" y="58.7">27</text><text x="258.3" y="73.2">27</text><text x="279.6" y="31.5">27</text><text x="286.1" y="43.9">27</text><text x="311.2" y="42.5">27</text><text x="142.4" y="129.4">28</text><text x="154.0" y="110.5">28</text><text x="165.6" y="79.1">28</text><text x="170.3" y="69.0">28</text><text x="177.2" y="83.4">28</text><text x="188.8" y="98.6">28</text><text x="200.4" y="64.4">28</text><text x="215.0" y="27.3">28</text><text x="165.6" y="119.1">14</text><text x="177.2" y="100.3">14</text><text x="200.4" y="85.4">14</text><text x="225.2" y="43.4">14</text><text x="235.1" y="79.1">14</text><text x="246.7" y="106.3">14</text><text x="258.3" y="116.5">14</text><text x="269.9" y="119.0">14</text><text x="188.8" y="99.6">73</text><text x="207.3" y="85.9">73</text><text x="223.6" y="94.4">73</text><text x="246.7" y="48.5">73</text><text x="258.3" y="60.5">73</text><text x="281.5" y="97.8">73</text><text x="293.1" y="112.2">73</text><text x="304.7" y="113.9">73</text><text x="258.3" y="189.7">6</text><text x="269.9" y="184.5">6</text><text x="281.5" y="180.3">6</text><text x="293.1" y="174.4">6</text><text x="304.7" y="170.1">6</text><text x="316.3" y="166.7">6</text><text x="327.8" y="151.4">6</text><text x="339.4" y="47.6">6</text><text x="154.0" y="247.5">60</text><text x="158.7" y="246.6">60</text><text x="165.6" y="233.8">60</text><text x="184.2" y="227.4">60</text><text x="200.4" y="233.8">60</text><text x="212.0" y="233.0">60</text><text x="216.6" y="235.5">60</text><text x="223.6" y="233.8">60</text><text x="112.3" y="230.5">62</text><text x="119.3" y="226.7">62</text><text x="130.9" y="227.9">62</text><text x="142.4" y="227.4">62</text><text x="154.0" y="222.0">62</text><text x="161.0" y="247.9">62</text><text x="165.6" y="230.5">62</text><text x="177.2" y="231.3">62</text><text x="73.6" y="228.0">31</text><text x="107.7" y="237.6">31</text><text x="119.3" y="211.8">31</text><text x="130.9" y="210.9">31</text><text x="142.4" y="214.3">31</text><text x="154.0" y="226.2">31</text><text x="165.6" y="222.0">31</text><text x="170.3" y="227.0">31</text><text x="246.7" y="232.2">17</text><text x="258.3" y="212.6">17</text><text x="281.5" y="209.2">17</text><text x="300.0" y="237.6">17</text><text x="316.3" y="236.4">17</text><text x="327.8" y="237.2">17</text><text x="339.4" y="242.3">17</text><text x="346.4" y="240.6">17</text><text x="411.3" y="86.9">5</text><text x="493.6" y="27.2">5</text><text x="342.3" y="67.8">4</text><text x="346.4" y="69.9">4</text><text x="364.6" y="63.8">4</text><text x="385.7" y="59.1">4</text><text x="389.0" y="57.7">4</text><text x="397.1" y="98.3">4</text><text x="451.8" y="92.6">4</text><text x="537.0" y="80.0">4</text><text x="364.6" y="69.1">21</text><text x="393.0" y="125.9">21</text><text x="414.2" y="86.3">24</text><text x="430.3" y="102.3">24</text><text x="447.8" y="163.2">24</text><text x="460.0" y="167.3">24</text><text x="484.3" y="167.3">24</text><text x="440.5" y="146.1">24</text><text x="455.9" y="142.1">24</text><text x="477.0" y="115.3">24</text><text x="508.6" y="166.5">24</text><text x="394.2" y="138.1">60</text><text x="417.4" y="138.9">60</text><text x="437.6" y="136.8">60</text><text x="470.1" y="125.9">60</text><text x="482.3" y="125.9">60</text><text x="532.2" y="136.0">60</text><text x="372.7" y="173.3">41</text><text x="407.2" y="150.2">41</text><text x="459.2" y="174.6">41</text><text x="407.2" y="122.6">9</text><text x="399.1" y="179.4">9</text><text x="339.2" y="152.1">2</text><text x="372.7" y="173.3">2</text><text x="389.0" y="181.5">2</text><text x="368.7" y="100.3">23</text><text x="391.0" y="102.3">23</text><text x="397.1" y="98.3">23</text><text x="359.4" y="86.1">22</text><text x="374.8" y="108.4">22</text><text x="382.9" y="112.5">22</text><text x="349.2" y="120.1">22</text><text x="352.5" y="197.7">47</text><text x="362.6" y="193.6">47</text><text x="372.7" y="199.7">47</text><text x="394.2" y="195.7">25</text><text x="409.2" y="211.1">25</text><text x="415.3" y="194.5">26</text><text x="412.2" y="211.1">26</text><text x="352.5" y="212.7">20</text><text x="370.7" y="211.9">20</text><text x="376.8" y="211.9">20</text><text x="340.3" y="222.1">17</text><text x="342.3" y="228.1">17</text><text x="348.4" y="242.3">17</text><text x="418.6" y="240.3">17</text><text x="431.6" y="251.7">72</text><text x="466.0" y="209.9">72</text><text x="509.5" y="224.1">72</text><text x="509.5" y="226.1">72</text><text x="345.2" y="279.7">71</text><text x="354.5" y="277.6">71</text><text x="356.5" y="263.9">71</text><text x="376.8" y="251.3">71</text><text x="384.9" y="254.5">71</text><text x="391.0" y="249.2">71</text><text x="407.2" y="259.0">71</text><text x="425.5" y="249.2">71</text><text x="425.5" y="249.2">22</text><text x="431.6" y="251.7">22</text><text x="310.2" y="177.1"></text><text x="345.2" y="279.7"></text><text x="244.2" y="84.1">9</text><text x="298.2" y="75.8">9</text><text x="309.3" y="99.6">9</text><text x="288.6" y="102.2">9</text><text x="274.2" y="120.1">9</text><text x="254.2" y="112.1">16</text><text x="264.8" y="93.9">16</text><text x="266.2" y="122.1">16</text><text x="304.2" y="107.1">1</text><text x="333.1" y="90.8">1</text><text x="339.4" y="91.7">1</text><text x="345.8" y="92.7">1</text><text x="329.9" y="102.2">1</text><text x="339.4" y="112.3">1</text><text x="309.3" y="99.6">64</text><text x="322.2" y="106.1">64</text><text x="334.2" y="114.1">64</text><text x="349.2" y="97.1">5</text><text x="399.1" y="179.4">5</text><text x="210.8" y="237.1">50</text><text x="217.4" y="237.1">50</text><text x="224.0" y="235.2">50</text><text x="229.3" y="234.4">50</text><text x="235.9" y="234.4">50</text><text x="243.4" y="234.4">50</text><text x="235.9" y="222.0">43</text><text x="246.5" y="222.5">43</text><text x="267.2" y="229.7">43</text><text x="280.9" y="226.5">43</text><text x="295.5" y="233.1">43</text><text x="296.2" y="231.3">43</text><text x="162.1" y="248.1">52</text><text x="166.1" y="248.1">52</text><text x="181.4" y="234.6">52</text><text x="190.6" y="248.1">52</text><text x="212.1" y="227.8">38</text><text x="220.1" y="228.6">38</text><text x="205.7" y="229.1">38</text><text x="196.5" y="227.3">38</text></g>
<path d="M68.5 181.4 L80.3 176.8 L103.5 169.4 L126.6 163.4 L149.8 159.2 L170.0 156.1 L210.0 154.6 L250.0 153.1 L300.0 153.3 L346.8 154.9 L400.0 155.8 L450.0 155.0 L490.0 154.0 L533.0 152.7" fill="none" stroke="#ffff00" stroke-width="4" stroke-linecap="round" stroke-linejoin="round"/>
</svg>
</body></html>
